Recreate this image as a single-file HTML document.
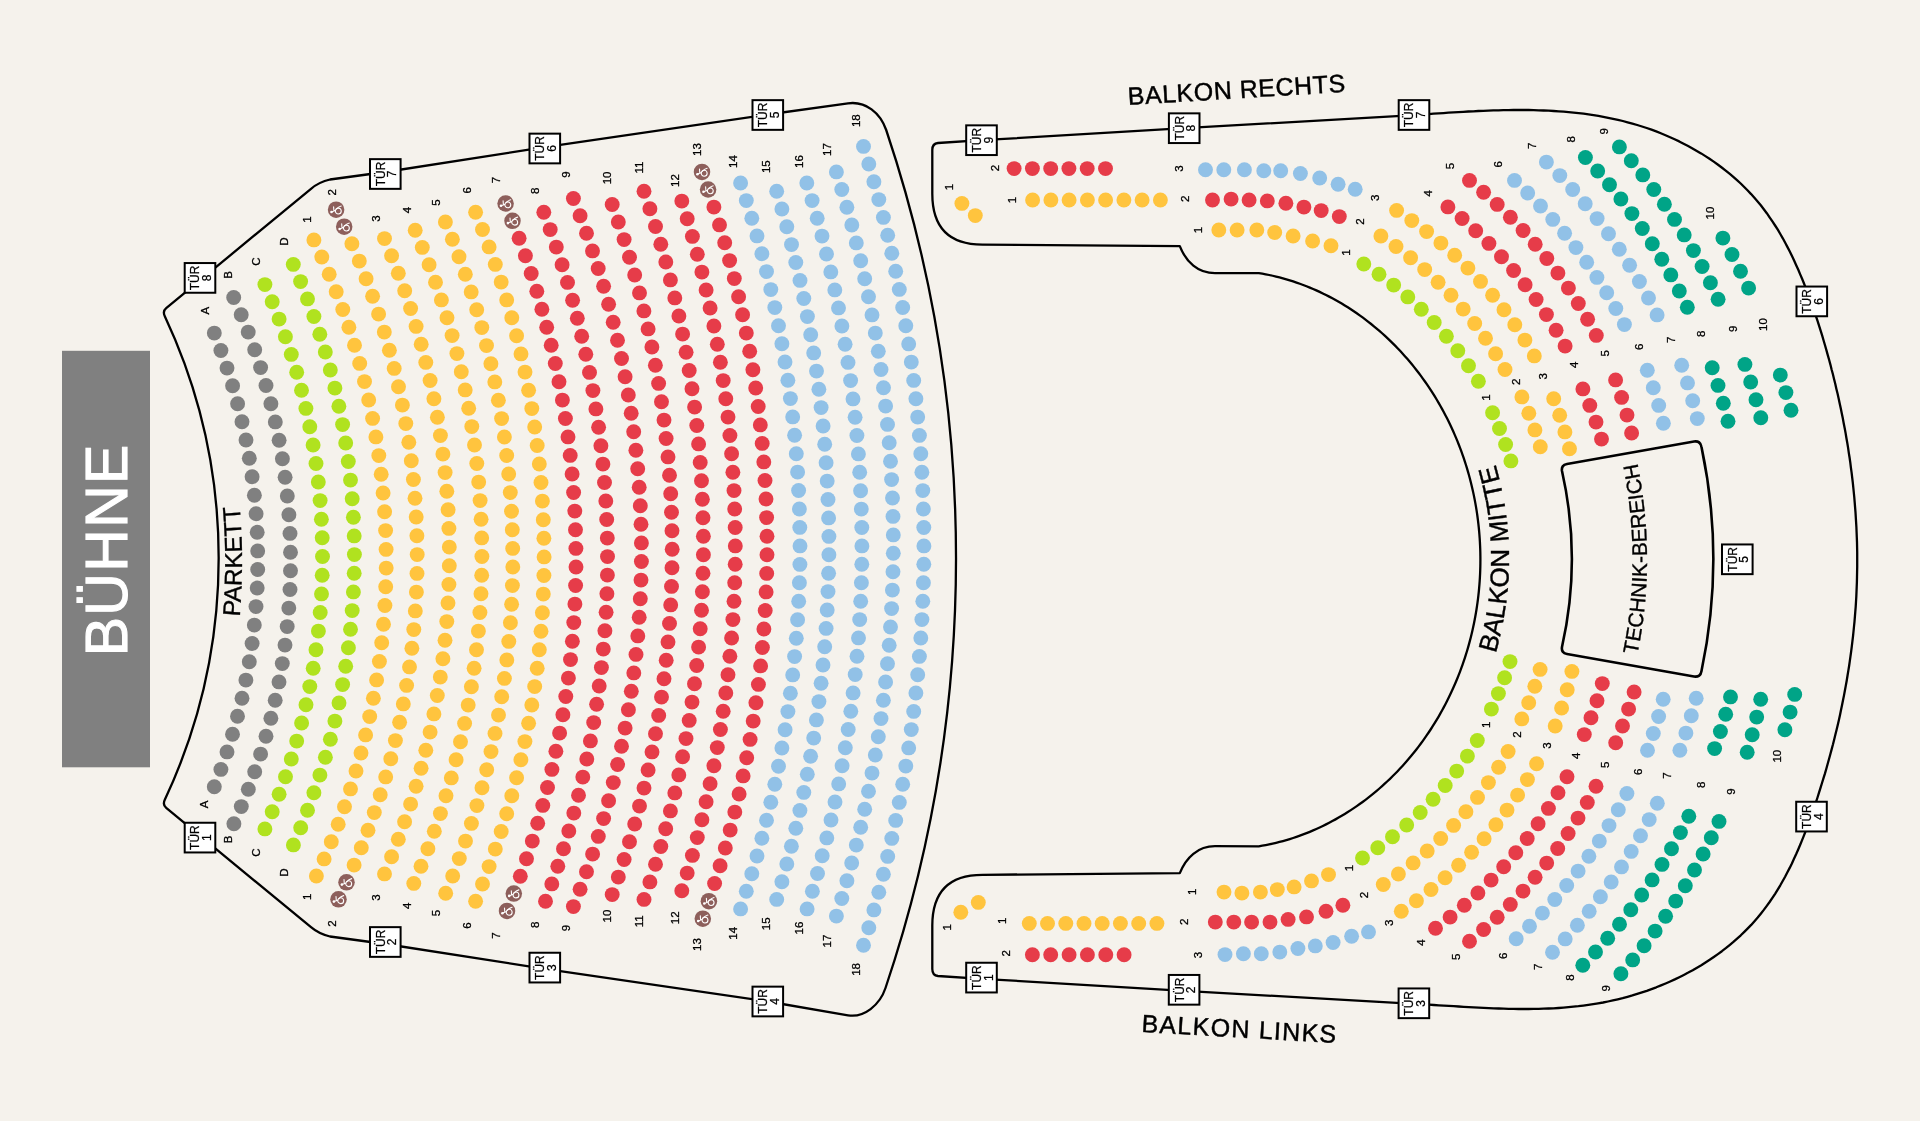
<!DOCTYPE html>
<html><head><meta charset="utf-8"><style>
html,body{margin:0;padding:0;background:#f5f2ec;}
svg{display:block;will-change:transform;font-family:"Liberation Sans",sans-serif;}
</style></head><body>
<svg width="1920" height="1121" viewBox="0 0 1920 1121">
<defs>
<path id="pMitte" d="M 1429.7 776.9 A 339 339 0 0 0 1429.7 341.1"/>
<path id="pTech" d="M 1583.1 797.5 A 477 477 0 0 0 1583.1 320.5"/>
<path id="pPark" d="M 220.3 726.4 A 637 637 0 0 0 220.3 396.6"/>
<g id="wc"><circle r="8.25" fill="#8d5f5b"/><circle cx="2.2" cy="1.35" r="2.95" fill="none" stroke="#fff" stroke-width="1.1"/><path d="M0.2 -0.5 Q2.4 -3.1 5.1 -3.7 M-4.6 2.2 L-0.9 0.9 M-2.5 -2.8 L-2.2 1.3" fill="none" stroke="#fff" stroke-width="1.1" stroke-linecap="round"/><circle cx="-4.6" cy="2.3" r="1.3" fill="#fff"/></g>
</defs>
<rect x="0" y="0" width="1920" height="1121" fill="#f5f2ec"/>
<rect x="62" y="350.8" width="88" height="416.5" fill="#808080"/>
<text transform="translate(127.2 549.8) rotate(-90)" font-size="59" fill="#fff" stroke="#fff" stroke-width="1.1" text-anchor="middle" letter-spacing="1.3">BÜHNE</text>
<text font-size="24.4" fill="#000" stroke="#000" stroke-width="0.35"><textPath href="#pPark" startOffset="50%" text-anchor="middle">PARKETT</textPath></text>
<text font-size="26.1" fill="#000" stroke="#000" stroke-width="0.4"><textPath href="#pMitte" startOffset="50%" text-anchor="middle">BALKON MITTE</textPath></text>
<text font-size="21.06" fill="#000" stroke="#000" stroke-width="0.35"><textPath href="#pTech" startOffset="50%" text-anchor="middle">TECHNIK-BEREICH</textPath></text>
<text transform="translate(1237.2 98.4) rotate(-3.5)" font-size="25" stroke="#000" stroke-width="0.45" text-anchor="middle" letter-spacing="0.55">BALKON RECHTS</text>
<text transform="translate(1239.1 1037.5) rotate(3.27)" font-size="25" stroke="#000" stroke-width="0.45" text-anchor="middle" letter-spacing="1.3">BALKON LINKS</text>
<path d="M 1567 464 L 1694 441.5 Q 1700.5 440.5 1701.5 447 A 541 541 0 0 1 1701.5 671 Q 1700.5 677.5 1694 676.5 L 1567 654 Q 1561 653 1562 647 A 401 401 0 0 0 1562 471 Q 1561 465 1567 464 Z" fill="none" stroke="#000" stroke-width="2.6"/><path d="M 932.3 150 Q 932.3 143.5 938 143 L 981.5 140.2 L 1184.2 128.2 L 1414.1 115.1 L 1419.0 114.7 L 1423.9 114.4 L 1428.7 114.1 L 1433.6 113.7 L 1438.6 113.4 L 1443.5 113.1 L 1448.4 112.7 L 1453.4 112.4 L 1458.4 112.1 L 1463.3 111.8 L 1468.3 111.5 L 1473.3 111.3 L 1478.3 111.0 L 1483.3 110.8 L 1488.3 110.6 L 1493.4 110.4 L 1498.4 110.3 L 1503.4 110.1 L 1508.4 110.1 L 1513.5 110.0 L 1518.5 110.0 L 1523.5 110.0 L 1528.6 110.0 L 1533.6 110.1 L 1538.6 110.3 L 1543.6 110.5 L 1548.6 110.7 L 1553.7 111.0 L 1558.7 111.3 L 1563.7 111.7 L 1568.6 112.1 L 1573.6 112.6 L 1578.6 113.1 L 1583.6 113.7 L 1588.5 114.4 L 1593.5 115.1 L 1598.4 115.9 L 1603.3 116.8 L 1608.2 117.8 L 1613.1 118.8 L 1617.9 119.8 L 1622.8 121.0 L 1627.6 122.3 L 1632.4 123.6 L 1637.2 125.0 L 1642.0 126.5 L 1646.7 128.0 L 1651.5 129.7 L 1656.2 131.4 L 1660.8 133.3 L 1665.5 135.2 L 1670.1 137.2 L 1674.6 139.3 L 1679.2 141.4 L 1683.6 143.7 L 1688.1 146.0 L 1692.5 148.4 L 1696.8 150.9 L 1701.1 153.4 L 1705.4 156.1 L 1709.5 158.8 L 1713.7 161.6 L 1717.7 164.5 L 1721.7 167.5 L 1725.7 170.6 L 1729.5 173.7 L 1733.3 176.9 L 1737.0 180.2 L 1740.7 183.5 L 1744.2 187.0 L 1747.7 190.5 L 1751.1 194.1 L 1754.4 197.8 L 1757.6 201.5 L 1760.8 205.3 L 1763.8 209.2 L 1766.8 213.2 L 1769.6 217.3 L 1772.4 221.4 L 1775.1 225.5 L 1777.8 229.7 L 1780.3 234.0 L 1782.8 238.3 L 1785.2 242.7 L 1787.5 247.1 L 1789.8 251.6 L 1792.0 256.1 L 1794.1 260.6 L 1796.2 265.2 L 1798.3 269.8 L 1800.2 274.4 L 1802.2 279.0 L 1804.1 283.7 L 1805.9 288.3 L 1807.7 293.0 L 1809.5 297.7 L 1811.2 302.4 L 1812.9 307.1 L 1814.5 311.9 L 1816.1 316.6 L 1817.7 321.4 L 1819.2 326.1 L 1820.7 330.9 L 1822.2 335.7 L 1823.6 340.5 L 1825.0 345.3 L 1826.4 350.1 L 1827.7 354.9 L 1829.1 359.8 L 1830.4 364.6 L 1831.6 369.5 L 1832.9 374.3 L 1834.1 379.2 L 1835.3 384.0 L 1836.4 388.9 L 1837.6 393.8 L 1838.7 398.7 L 1839.7 403.6 L 1840.8 408.5 L 1841.8 413.4 L 1842.8 418.3 L 1843.7 423.2 L 1844.7 428.2 L 1845.6 433.1 L 1846.4 438.0 L 1847.3 443.0 L 1848.1 447.9 L 1848.8 452.8 L 1849.6 457.8 L 1850.3 462.7 L 1850.9 467.7 L 1851.6 472.7 L 1852.2 477.6 L 1852.8 482.6 L 1853.3 487.5 L 1853.8 492.5 L 1854.3 497.5 L 1854.7 502.4 L 1855.1 507.4 L 1855.5 512.4 L 1855.8 517.4 L 1856.1 522.3 L 1856.4 527.3 L 1856.6 532.3 L 1856.8 537.3 L 1857.0 542.2 L 1857.1 547.2 L 1857.2 552.2 L 1857.2 557.1 L 1857.2 562.1 L 1857.2 567.1 L 1857.1 572.0 L 1857.0 577.0 L 1856.9 582.0 L 1856.7 586.9 L 1856.5 591.9 L 1856.3 596.8 L 1856.0 601.8 L 1855.7 606.8 L 1855.3 611.7 L 1854.9 616.7 L 1854.5 621.6 L 1854.0 626.5 L 1853.5 631.5 L 1853.0 636.4 L 1852.4 641.4 L 1851.8 646.3 L 1851.2 651.2 L 1850.5 656.1 L 1849.8 661.1 L 1849.1 666.0 L 1848.3 670.9 L 1847.5 675.8 L 1846.7 680.7 L 1845.8 685.6 L 1844.9 690.5 L 1844.0 695.4 L 1843.0 700.3 L 1842.0 705.2 L 1841.0 710.1 L 1840.0 715.0 L 1838.9 719.9 L 1837.8 724.8 L 1836.6 729.7 L 1835.4 734.5 L 1834.2 739.4 L 1833.0 744.3 L 1831.7 749.1 L 1830.4 754.0 L 1829.1 758.8 L 1827.7 763.7 L 1826.4 768.5 L 1825.0 773.4 L 1823.5 778.2 L 1822.0 783.0 L 1820.5 787.9 L 1819.0 792.7 L 1817.5 797.5 L 1815.9 802.3 L 1814.3 807.1 L 1812.6 811.9 L 1811.0 816.7 L 1809.3 821.5 L 1807.5 826.2 L 1805.7 831.0 L 1803.9 835.7 L 1802.0 840.4 L 1800.1 845.0 L 1798.1 849.7 L 1796.1 854.3 L 1794.0 858.8 L 1791.9 863.4 L 1789.7 867.9 L 1787.4 872.3 L 1785.1 876.7 L 1782.7 881.0 L 1780.3 885.3 L 1777.7 889.6 L 1775.1 893.8 L 1772.4 897.9 L 1769.6 902.0 L 1766.8 905.9 L 1763.8 909.9 L 1760.8 913.7 L 1757.7 917.5 L 1754.5 921.2 L 1751.2 924.9 L 1747.8 928.4 L 1744.3 931.9 L 1740.8 935.3 L 1737.1 938.6 L 1733.4 941.9 L 1729.6 945.1 L 1725.8 948.2 L 1721.9 951.2 L 1717.9 954.1 L 1713.8 957.0 L 1709.7 959.8 L 1705.5 962.5 L 1701.3 965.2 L 1697.0 967.7 L 1692.7 970.2 L 1688.3 972.6 L 1683.8 974.9 L 1679.3 977.2 L 1674.8 979.4 L 1670.2 981.5 L 1665.6 983.5 L 1661.0 985.4 L 1656.3 987.3 L 1651.5 989.1 L 1646.8 990.8 L 1642.0 992.4 L 1637.2 993.9 L 1632.4 995.4 L 1627.5 996.8 L 1622.7 998.1 L 1617.8 999.3 L 1612.9 1000.4 L 1608.0 1001.5 L 1603.1 1002.5 L 1598.1 1003.4 L 1593.2 1004.2 L 1588.3 1004.9 L 1583.3 1005.6 L 1578.4 1006.2 L 1573.4 1006.7 L 1568.5 1007.2 L 1563.5 1007.6 L 1558.5 1008.0 L 1553.5 1008.3 L 1548.6 1008.5 L 1543.6 1008.7 L 1538.6 1008.8 L 1533.6 1008.9 L 1528.6 1009.0 L 1523.6 1009.0 L 1518.6 1009.0 L 1513.6 1008.9 L 1508.6 1008.8 L 1503.6 1008.7 L 1498.7 1008.5 L 1493.7 1008.3 L 1488.7 1008.1 L 1483.7 1007.9 L 1478.7 1007.6 L 1473.7 1007.4 L 1468.7 1007.1 L 1463.7 1006.8 L 1458.7 1006.5 L 1453.7 1006.2 L 1448.8 1005.9 L 1443.8 1005.6 L 1438.8 1005.3 L 1433.9 1005.0 L 1428.9 1004.7 L 1424.0 1004.4 L 1419.0 1004.2 L 1414.1 1003.9 L 1184.2 990.8 L 981.5 978.8 L 938 976.0 Q 932.3 975.5 932.3 969.0 L 932.3 925.6 Q 932.3 874.8 982.4 874.8 L 1179.8 873.2 C 1186 857.4 1198 846.2 1215 846.2 L 1258.79 846.32 L 1262.26 845.74 L 1265.73 845.10 L 1269.20 844.40 L 1272.65 843.65 L 1276.09 842.84 L 1279.53 841.98 L 1282.95 841.06 L 1286.36 840.09 L 1289.75 839.06 L 1293.14 837.98 L 1296.50 836.85 L 1299.86 835.67 L 1303.19 834.43 L 1306.51 833.15 L 1309.81 831.81 L 1313.10 830.43 L 1316.36 828.99 L 1319.61 827.51 L 1322.83 825.98 L 1326.03 824.40 L 1329.21 822.77 L 1332.37 821.10 L 1335.51 819.38 L 1338.62 817.62 L 1341.71 815.81 L 1344.77 813.96 L 1347.81 812.06 L 1350.82 810.12 L 1353.80 808.14 L 1356.76 806.12 L 1359.69 804.05 L 1362.59 801.95 L 1365.47 799.80 L 1368.31 797.62 L 1371.13 795.40 L 1373.91 793.14 L 1376.67 790.84 L 1379.40 788.50 L 1382.09 786.13 L 1384.75 783.72 L 1387.39 781.28 L 1389.99 778.81 L 1392.55 776.30 L 1395.09 773.75 L 1397.59 771.18 L 1400.06 768.57 L 1402.49 765.93 L 1404.89 763.26 L 1407.26 760.55 L 1409.59 757.82 L 1411.89 755.06 L 1414.15 752.27 L 1416.38 749.46 L 1418.57 746.61 L 1420.72 743.74 L 1422.84 740.85 L 1424.93 737.92 L 1426.97 734.97 L 1428.98 732.00 L 1430.96 729.00 L 1432.89 725.98 L 1434.79 722.94 L 1436.65 719.87 L 1438.48 716.79 L 1440.27 713.68 L 1442.02 710.55 L 1443.73 707.40 L 1445.40 704.23 L 1447.04 701.04 L 1448.63 697.83 L 1450.19 694.60 L 1451.71 691.36 L 1453.20 688.10 L 1454.64 684.82 L 1456.05 681.53 L 1457.41 678.22 L 1458.74 674.89 L 1460.03 671.55 L 1461.28 668.20 L 1462.49 664.83 L 1463.66 661.45 L 1464.79 658.06 L 1465.88 654.65 L 1466.94 651.24 L 1467.95 647.81 L 1468.92 644.37 L 1469.86 640.92 L 1470.75 637.46 L 1471.61 633.99 L 1472.43 630.51 L 1473.20 627.02 L 1473.94 623.52 L 1474.64 620.02 L 1475.29 616.51 L 1475.91 612.99 L 1476.49 609.47 L 1477.03 605.94 L 1477.53 602.40 L 1477.99 598.86 L 1478.40 595.32 L 1478.78 591.77 L 1479.12 588.21 L 1479.42 584.66 L 1479.68 581.10 L 1479.90 577.53 L 1480.08 573.97 L 1480.22 570.40 L 1480.32 566.84 L 1480.38 563.27 L 1480.40 559.70 L 1480.38 556.13 L 1480.32 552.56 L 1480.22 549.00 L 1480.08 545.43 L 1479.90 541.87 L 1479.68 538.30 L 1479.42 534.74 L 1479.12 531.19 L 1478.78 527.63 L 1478.40 524.08 L 1477.99 520.54 L 1477.53 517.00 L 1477.03 513.46 L 1476.49 509.93 L 1475.91 506.41 L 1475.29 502.89 L 1474.64 499.38 L 1473.94 495.88 L 1473.20 492.38 L 1472.43 488.89 L 1471.61 485.41 L 1470.75 481.94 L 1469.86 478.48 L 1468.92 475.03 L 1467.95 471.59 L 1466.94 468.16 L 1465.88 464.75 L 1464.79 461.34 L 1463.66 457.95 L 1462.49 454.57 L 1461.28 451.20 L 1460.03 447.85 L 1458.74 444.51 L 1457.41 441.18 L 1456.05 437.87 L 1454.64 434.58 L 1453.20 431.30 L 1451.71 428.04 L 1450.19 424.80 L 1448.63 421.57 L 1447.04 418.36 L 1445.40 415.17 L 1443.73 412.00 L 1442.02 408.85 L 1440.27 405.72 L 1438.48 402.61 L 1436.65 399.53 L 1434.79 396.46 L 1432.89 393.42 L 1430.96 390.40 L 1428.98 387.40 L 1426.97 384.43 L 1424.93 381.48 L 1422.84 378.55 L 1420.72 375.66 L 1418.57 372.79 L 1416.38 369.94 L 1414.15 367.13 L 1411.89 364.34 L 1409.59 361.58 L 1407.26 358.85 L 1404.89 356.14 L 1402.49 353.47 L 1400.06 350.83 L 1397.59 348.22 L 1395.09 345.65 L 1392.55 343.10 L 1389.99 340.59 L 1387.39 338.12 L 1384.75 335.68 L 1382.09 333.27 L 1379.40 330.90 L 1376.67 328.56 L 1373.91 326.26 L 1371.13 324.00 L 1368.31 321.78 L 1365.47 319.60 L 1362.59 317.45 L 1359.69 315.35 L 1356.76 313.28 L 1353.80 311.26 L 1350.82 309.28 L 1347.81 307.34 L 1344.77 305.44 L 1341.71 303.59 L 1338.62 301.78 L 1335.51 300.02 L 1332.37 298.30 L 1329.21 296.63 L 1326.03 295.00 L 1322.83 293.42 L 1319.61 291.89 L 1316.36 290.41 L 1313.10 288.97 L 1309.81 287.59 L 1306.51 286.25 L 1303.19 284.97 L 1299.86 283.73 L 1296.50 282.55 L 1293.14 281.42 L 1289.75 280.34 L 1286.36 279.31 L 1282.95 278.34 L 1279.53 277.42 L 1276.09 276.56 L 1272.65 275.75 L 1269.20 275.00 L 1265.73 274.30 L 1262.26 273.66 L 1258.79 273.08 L 1215 273.2 C 1198 273.2 1186 262 1179.8 246.2 L 982.4 244.6 Q 932.3 244.6 932.3 193.8 Z" fill="none" stroke="#000" stroke-width="2.3" stroke-linejoin="round"/><path d="M 164.8 316.2 Q 162.4 311.2 166.2 308.1 L 311 188.8 Q 319 182 330 179.5 L 385.3 172 L 544.8 147.2 L 767.8 114.5 L 848 103.35 C 865.8 100.9 880.3 112.9 886.2 130.0 A 1346.6 1346.6 0 0 1 885.5 988.0 C 879.8 1005.1 864 1018 848 1015.3 L 767.8 1001.5 L 544.8 968.8 L 385.3 944.0 L 330 936.5 Q 319 934.0 311 927.2 L 166.2 807.9 Q 162.4 804.8 164.8 799.8 A 569.6 569.6 0 0 0 164.8 316.2 Z" fill="none" stroke="#000" stroke-width="2.3" stroke-linejoin="round"/><circle cx="214.3" cy="333.1" r="7.45" fill="#808080"/><circle cx="220.9" cy="350.5" r="7.45" fill="#808080"/><circle cx="227.0" cy="368.1" r="7.45" fill="#808080"/><circle cx="232.6" cy="385.8" r="7.45" fill="#808080"/><circle cx="237.6" cy="403.8" r="7.45" fill="#808080"/><circle cx="242.0" cy="421.8" r="7.45" fill="#808080"/><circle cx="246.0" cy="440.0" r="7.45" fill="#808080"/><circle cx="249.3" cy="458.3" r="7.45" fill="#808080"/><circle cx="252.1" cy="476.7" r="7.45" fill="#808080"/><circle cx="254.4" cy="495.2" r="7.45" fill="#808080"/><circle cx="256.1" cy="513.7" r="7.45" fill="#808080"/><circle cx="257.2" cy="532.3" r="7.45" fill="#808080"/><circle cx="257.7" cy="550.9" r="7.45" fill="#808080"/><circle cx="257.7" cy="569.5" r="7.45" fill="#808080"/><circle cx="257.2" cy="588.0" r="7.45" fill="#808080"/><circle cx="256.0" cy="606.6" r="7.45" fill="#808080"/><circle cx="254.3" cy="625.1" r="7.45" fill="#808080"/><circle cx="252.1" cy="643.5" r="7.45" fill="#808080"/><circle cx="249.3" cy="661.8" r="7.45" fill="#808080"/><circle cx="245.9" cy="680.1" r="7.45" fill="#808080"/><circle cx="242.0" cy="698.3" r="7.45" fill="#808080"/><circle cx="237.5" cy="716.3" r="7.45" fill="#808080"/><circle cx="232.5" cy="734.2" r="7.45" fill="#808080"/><circle cx="227.0" cy="751.9" r="7.45" fill="#808080"/><circle cx="220.9" cy="769.4" r="7.45" fill="#808080"/><circle cx="214.3" cy="786.8" r="7.45" fill="#808080"/><circle cx="233.7" cy="297.5" r="7.45" fill="#808080"/><circle cx="241.2" cy="314.7" r="7.45" fill="#808080"/><circle cx="248.2" cy="332.1" r="7.45" fill="#808080"/><circle cx="254.7" cy="349.8" r="7.45" fill="#808080"/><circle cx="260.6" cy="367.6" r="7.45" fill="#808080"/><circle cx="266.0" cy="385.5" r="7.45" fill="#808080"/><circle cx="270.9" cy="403.7" r="7.45" fill="#808080"/><circle cx="275.3" cy="421.9" r="7.45" fill="#808080"/><circle cx="279.1" cy="440.3" r="7.45" fill="#808080"/><circle cx="282.4" cy="458.8" r="7.45" fill="#808080"/><circle cx="285.1" cy="477.3" r="7.45" fill="#808080"/><circle cx="287.3" cy="496.0" r="7.45" fill="#808080"/><circle cx="288.9" cy="514.7" r="7.45" fill="#808080"/><circle cx="290.0" cy="533.4" r="7.45" fill="#808080"/><circle cx="290.5" cy="552.2" r="7.45" fill="#808080"/><circle cx="290.5" cy="570.8" r="7.45" fill="#808080"/><circle cx="290.0" cy="589.5" r="7.45" fill="#808080"/><circle cx="288.8" cy="608.1" r="7.45" fill="#808080"/><circle cx="287.2" cy="626.6" r="7.45" fill="#808080"/><circle cx="285.0" cy="645.1" r="7.45" fill="#808080"/><circle cx="282.3" cy="663.6" r="7.45" fill="#808080"/><circle cx="279.0" cy="681.9" r="7.45" fill="#808080"/><circle cx="275.2" cy="700.2" r="7.45" fill="#808080"/><circle cx="270.9" cy="718.3" r="7.45" fill="#808080"/><circle cx="266.0" cy="736.3" r="7.45" fill="#808080"/><circle cx="260.6" cy="754.1" r="7.45" fill="#808080"/><circle cx="254.7" cy="771.8" r="7.45" fill="#808080"/><circle cx="248.3" cy="789.3" r="7.45" fill="#808080"/><circle cx="241.3" cy="806.6" r="7.45" fill="#808080"/><circle cx="233.9" cy="823.7" r="7.45" fill="#808080"/><circle cx="264.9" cy="284.6" r="7.45" fill="#b0e21f"/><circle cx="272.2" cy="301.8" r="7.45" fill="#b0e21f"/><circle cx="279.1" cy="319.1" r="7.45" fill="#b0e21f"/><circle cx="285.4" cy="336.7" r="7.45" fill="#b0e21f"/><circle cx="291.3" cy="354.4" r="7.45" fill="#b0e21f"/><circle cx="296.7" cy="372.3" r="7.45" fill="#b0e21f"/><circle cx="301.5" cy="390.3" r="7.45" fill="#b0e21f"/><circle cx="305.9" cy="408.4" r="7.45" fill="#b0e21f"/><circle cx="309.8" cy="426.7" r="7.45" fill="#b0e21f"/><circle cx="313.1" cy="445.0" r="7.45" fill="#b0e21f"/><circle cx="316.0" cy="463.5" r="7.45" fill="#b0e21f"/><circle cx="318.3" cy="482.0" r="7.45" fill="#b0e21f"/><circle cx="320.1" cy="500.6" r="7.45" fill="#b0e21f"/><circle cx="321.4" cy="519.2" r="7.45" fill="#b0e21f"/><circle cx="322.2" cy="537.8" r="7.45" fill="#b0e21f"/><circle cx="322.5" cy="556.5" r="7.45" fill="#b0e21f"/><circle cx="322.2" cy="575.2" r="7.45" fill="#b0e21f"/><circle cx="321.5" cy="593.9" r="7.45" fill="#b0e21f"/><circle cx="320.2" cy="612.5" r="7.45" fill="#b0e21f"/><circle cx="318.4" cy="631.1" r="7.45" fill="#b0e21f"/><circle cx="316.0" cy="649.7" r="7.45" fill="#b0e21f"/><circle cx="313.2" cy="668.2" r="7.45" fill="#b0e21f"/><circle cx="309.8" cy="686.6" r="7.45" fill="#b0e21f"/><circle cx="306.0" cy="704.8" r="7.45" fill="#b0e21f"/><circle cx="301.6" cy="723.0" r="7.45" fill="#b0e21f"/><circle cx="296.7" cy="741.1" r="7.45" fill="#b0e21f"/><circle cx="291.3" cy="759.0" r="7.45" fill="#b0e21f"/><circle cx="285.5" cy="776.7" r="7.45" fill="#b0e21f"/><circle cx="279.1" cy="794.3" r="7.45" fill="#b0e21f"/><circle cx="272.2" cy="811.7" r="7.45" fill="#b0e21f"/><circle cx="264.9" cy="828.9" r="7.45" fill="#b0e21f"/><circle cx="293.3" cy="264.4" r="7.45" fill="#b0e21f"/><circle cx="300.6" cy="281.6" r="7.45" fill="#b0e21f"/><circle cx="307.5" cy="298.9" r="7.45" fill="#b0e21f"/><circle cx="313.9" cy="316.5" r="7.45" fill="#b0e21f"/><circle cx="319.8" cy="334.2" r="7.45" fill="#b0e21f"/><circle cx="325.3" cy="352.0" r="7.45" fill="#b0e21f"/><circle cx="330.3" cy="370.0" r="7.45" fill="#b0e21f"/><circle cx="334.9" cy="388.1" r="7.45" fill="#b0e21f"/><circle cx="338.9" cy="406.3" r="7.45" fill="#b0e21f"/><circle cx="342.6" cy="424.6" r="7.45" fill="#b0e21f"/><circle cx="345.7" cy="443.0" r="7.45" fill="#b0e21f"/><circle cx="348.3" cy="461.5" r="7.45" fill="#b0e21f"/><circle cx="350.5" cy="480.1" r="7.45" fill="#b0e21f"/><circle cx="352.2" cy="498.7" r="7.45" fill="#b0e21f"/><circle cx="353.4" cy="517.3" r="7.45" fill="#b0e21f"/><circle cx="354.2" cy="535.9" r="7.45" fill="#b0e21f"/><circle cx="354.4" cy="554.6" r="7.45" fill="#b0e21f"/><circle cx="354.2" cy="573.3" r="7.45" fill="#b0e21f"/><circle cx="353.4" cy="591.9" r="7.45" fill="#b0e21f"/><circle cx="352.2" cy="610.6" r="7.45" fill="#b0e21f"/><circle cx="350.5" cy="629.2" r="7.45" fill="#b0e21f"/><circle cx="348.4" cy="647.7" r="7.45" fill="#b0e21f"/><circle cx="345.7" cy="666.2" r="7.45" fill="#b0e21f"/><circle cx="342.6" cy="684.6" r="7.45" fill="#b0e21f"/><circle cx="339.0" cy="702.9" r="7.45" fill="#b0e21f"/><circle cx="334.9" cy="721.1" r="7.45" fill="#b0e21f"/><circle cx="330.4" cy="739.3" r="7.45" fill="#b0e21f"/><circle cx="325.4" cy="757.2" r="7.45" fill="#b0e21f"/><circle cx="319.9" cy="775.1" r="7.45" fill="#b0e21f"/><circle cx="313.9" cy="792.8" r="7.45" fill="#b0e21f"/><circle cx="307.5" cy="810.3" r="7.45" fill="#b0e21f"/><circle cx="300.7" cy="827.7" r="7.45" fill="#b0e21f"/><circle cx="293.4" cy="844.9" r="7.45" fill="#b0e21f"/><circle cx="313.9" cy="239.9" r="7.45" fill="#ffc43e"/><circle cx="321.8" cy="257.0" r="7.45" fill="#ffc43e"/><circle cx="329.2" cy="274.3" r="7.45" fill="#ffc43e"/><circle cx="336.2" cy="291.8" r="7.45" fill="#ffc43e"/><circle cx="342.8" cy="309.5" r="7.45" fill="#ffc43e"/><circle cx="348.9" cy="327.3" r="7.45" fill="#ffc43e"/><circle cx="354.5" cy="345.3" r="7.45" fill="#ffc43e"/><circle cx="359.7" cy="363.4" r="7.45" fill="#ffc43e"/><circle cx="364.5" cy="381.6" r="7.45" fill="#ffc43e"/><circle cx="368.7" cy="400.0" r="7.45" fill="#ffc43e"/><circle cx="372.6" cy="418.4" r="7.45" fill="#ffc43e"/><circle cx="375.9" cy="436.9" r="7.45" fill="#ffc43e"/><circle cx="378.8" cy="455.6" r="7.45" fill="#ffc43e"/><circle cx="381.2" cy="474.2" r="7.45" fill="#ffc43e"/><circle cx="383.1" cy="493.0" r="7.45" fill="#ffc43e"/><circle cx="384.6" cy="511.8" r="7.45" fill="#ffc43e"/><circle cx="385.6" cy="530.6" r="7.45" fill="#ffc43e"/><circle cx="386.1" cy="549.4" r="7.45" fill="#ffc43e"/><circle cx="386.2" cy="568.1" r="7.45" fill="#ffc43e"/><circle cx="385.7" cy="586.8" r="7.45" fill="#ffc43e"/><circle cx="384.9" cy="605.5" r="7.45" fill="#ffc43e"/><circle cx="383.5" cy="624.2" r="7.45" fill="#ffc43e"/><circle cx="381.7" cy="642.8" r="7.45" fill="#ffc43e"/><circle cx="379.4" cy="661.4" r="7.45" fill="#ffc43e"/><circle cx="376.6" cy="679.9" r="7.45" fill="#ffc43e"/><circle cx="373.4" cy="698.3" r="7.45" fill="#ffc43e"/><circle cx="369.7" cy="716.6" r="7.45" fill="#ffc43e"/><circle cx="365.6" cy="734.9" r="7.45" fill="#ffc43e"/><circle cx="361.0" cy="753.0" r="7.45" fill="#ffc43e"/><circle cx="356.0" cy="771.0" r="7.45" fill="#ffc43e"/><circle cx="350.5" cy="788.9" r="7.45" fill="#ffc43e"/><circle cx="344.5" cy="806.7" r="7.45" fill="#ffc43e"/><circle cx="338.2" cy="824.3" r="7.45" fill="#ffc43e"/><circle cx="331.3" cy="841.7" r="7.45" fill="#ffc43e"/><circle cx="324.1" cy="858.9" r="7.45" fill="#ffc43e"/><circle cx="316.4" cy="876.0" r="7.45" fill="#ffc43e"/><use href="#wc" x="336.1" y="209.7"/><use href="#wc" x="344.2" y="226.7"/><circle cx="351.9" cy="243.8" r="7.45" fill="#ffc43e"/><circle cx="359.3" cy="261.1" r="7.45" fill="#ffc43e"/><circle cx="366.1" cy="278.7" r="7.45" fill="#ffc43e"/><circle cx="372.6" cy="296.3" r="7.45" fill="#ffc43e"/><circle cx="378.6" cy="314.1" r="7.45" fill="#ffc43e"/><circle cx="384.3" cy="332.1" r="7.45" fill="#ffc43e"/><circle cx="389.4" cy="350.2" r="7.45" fill="#ffc43e"/><circle cx="394.2" cy="368.4" r="7.45" fill="#ffc43e"/><circle cx="398.5" cy="386.7" r="7.45" fill="#ffc43e"/><circle cx="402.4" cy="405.1" r="7.45" fill="#ffc43e"/><circle cx="405.8" cy="423.6" r="7.45" fill="#ffc43e"/><circle cx="408.8" cy="442.2" r="7.45" fill="#ffc43e"/><circle cx="411.3" cy="460.8" r="7.45" fill="#ffc43e"/><circle cx="413.4" cy="479.5" r="7.45" fill="#ffc43e"/><circle cx="415.0" cy="498.2" r="7.45" fill="#ffc43e"/><circle cx="416.2" cy="517.0" r="7.45" fill="#ffc43e"/><circle cx="416.9" cy="535.8" r="7.45" fill="#ffc43e"/><circle cx="417.2" cy="554.6" r="7.45" fill="#ffc43e"/><circle cx="417.0" cy="573.4" r="7.45" fill="#ffc43e"/><circle cx="416.4" cy="592.1" r="7.45" fill="#ffc43e"/><circle cx="415.3" cy="610.9" r="7.45" fill="#ffc43e"/><circle cx="413.8" cy="629.6" r="7.45" fill="#ffc43e"/><circle cx="411.9" cy="648.2" r="7.45" fill="#ffc43e"/><circle cx="409.5" cy="666.9" r="7.45" fill="#ffc43e"/><circle cx="406.6" cy="685.4" r="7.45" fill="#ffc43e"/><circle cx="403.3" cy="703.9" r="7.45" fill="#ffc43e"/><circle cx="399.6" cy="722.3" r="7.45" fill="#ffc43e"/><circle cx="395.4" cy="740.6" r="7.45" fill="#ffc43e"/><circle cx="390.8" cy="758.8" r="7.45" fill="#ffc43e"/><circle cx="385.7" cy="776.9" r="7.45" fill="#ffc43e"/><circle cx="380.2" cy="794.8" r="7.45" fill="#ffc43e"/><circle cx="374.3" cy="812.6" r="7.45" fill="#ffc43e"/><circle cx="368.0" cy="830.3" r="7.45" fill="#ffc43e"/><circle cx="361.3" cy="847.8" r="7.45" fill="#ffc43e"/><circle cx="354.1" cy="865.1" r="7.45" fill="#ffc43e"/><use href="#wc" x="346.5" y="882.3"/><use href="#wc" x="338.5" y="899.3"/><circle cx="384.5" cy="238.6" r="7.45" fill="#ffc43e"/><circle cx="391.6" cy="255.8" r="7.45" fill="#ffc43e"/><circle cx="398.3" cy="273.3" r="7.45" fill="#ffc43e"/><circle cx="404.7" cy="290.8" r="7.45" fill="#ffc43e"/><circle cx="410.6" cy="308.5" r="7.45" fill="#ffc43e"/><circle cx="416.1" cy="326.4" r="7.45" fill="#ffc43e"/><circle cx="421.2" cy="344.3" r="7.45" fill="#ffc43e"/><circle cx="425.8" cy="362.4" r="7.45" fill="#ffc43e"/><circle cx="430.1" cy="380.5" r="7.45" fill="#ffc43e"/><circle cx="433.9" cy="398.8" r="7.45" fill="#ffc43e"/><circle cx="437.4" cy="417.2" r="7.45" fill="#ffc43e"/><circle cx="440.4" cy="435.6" r="7.45" fill="#ffc43e"/><circle cx="442.9" cy="454.1" r="7.45" fill="#ffc43e"/><circle cx="445.1" cy="472.6" r="7.45" fill="#ffc43e"/><circle cx="446.8" cy="491.2" r="7.45" fill="#ffc43e"/><circle cx="448.1" cy="509.8" r="7.45" fill="#ffc43e"/><circle cx="448.9" cy="528.4" r="7.45" fill="#ffc43e"/><circle cx="449.3" cy="547.1" r="7.45" fill="#ffc43e"/><circle cx="449.3" cy="565.7" r="7.45" fill="#ffc43e"/><circle cx="448.9" cy="584.4" r="7.45" fill="#ffc43e"/><circle cx="448.0" cy="603.0" r="7.45" fill="#ffc43e"/><circle cx="446.8" cy="621.6" r="7.45" fill="#ffc43e"/><circle cx="445.0" cy="640.2" r="7.45" fill="#ffc43e"/><circle cx="442.9" cy="658.7" r="7.45" fill="#ffc43e"/><circle cx="440.3" cy="677.1" r="7.45" fill="#ffc43e"/><circle cx="437.3" cy="695.5" r="7.45" fill="#ffc43e"/><circle cx="433.9" cy="713.9" r="7.45" fill="#ffc43e"/><circle cx="430.1" cy="732.1" r="7.45" fill="#ffc43e"/><circle cx="425.8" cy="750.3" r="7.45" fill="#ffc43e"/><circle cx="421.1" cy="768.3" r="7.45" fill="#ffc43e"/><circle cx="416.1" cy="786.2" r="7.45" fill="#ffc43e"/><circle cx="410.6" cy="804.1" r="7.45" fill="#ffc43e"/><circle cx="404.6" cy="821.7" r="7.45" fill="#ffc43e"/><circle cx="398.3" cy="839.3" r="7.45" fill="#ffc43e"/><circle cx="391.6" cy="856.7" r="7.45" fill="#ffc43e"/><circle cx="384.5" cy="873.9" r="7.45" fill="#ffc43e"/><circle cx="415.2" cy="230.2" r="7.45" fill="#ffc43e"/><circle cx="422.3" cy="247.4" r="7.45" fill="#ffc43e"/><circle cx="429.1" cy="264.8" r="7.45" fill="#ffc43e"/><circle cx="435.5" cy="282.3" r="7.45" fill="#ffc43e"/><circle cx="441.4" cy="299.9" r="7.45" fill="#ffc43e"/><circle cx="447.0" cy="317.7" r="7.45" fill="#ffc43e"/><circle cx="452.1" cy="335.6" r="7.45" fill="#ffc43e"/><circle cx="456.9" cy="353.6" r="7.45" fill="#ffc43e"/><circle cx="461.3" cy="371.7" r="7.45" fill="#ffc43e"/><circle cx="465.2" cy="389.9" r="7.45" fill="#ffc43e"/><circle cx="468.7" cy="408.2" r="7.45" fill="#ffc43e"/><circle cx="471.8" cy="426.6" r="7.45" fill="#ffc43e"/><circle cx="474.5" cy="445.0" r="7.45" fill="#ffc43e"/><circle cx="476.8" cy="463.5" r="7.45" fill="#ffc43e"/><circle cx="478.7" cy="482.1" r="7.45" fill="#ffc43e"/><circle cx="480.1" cy="500.6" r="7.45" fill="#ffc43e"/><circle cx="481.1" cy="519.3" r="7.45" fill="#ffc43e"/><circle cx="481.7" cy="537.9" r="7.45" fill="#ffc43e"/><circle cx="481.9" cy="556.5" r="7.45" fill="#ffc43e"/><circle cx="481.7" cy="575.2" r="7.45" fill="#ffc43e"/><circle cx="481.0" cy="593.8" r="7.45" fill="#ffc43e"/><circle cx="479.9" cy="612.5" r="7.45" fill="#ffc43e"/><circle cx="478.4" cy="631.1" r="7.45" fill="#ffc43e"/><circle cx="476.5" cy="649.7" r="7.45" fill="#ffc43e"/><circle cx="474.1" cy="668.2" r="7.45" fill="#ffc43e"/><circle cx="471.4" cy="686.7" r="7.45" fill="#ffc43e"/><circle cx="468.2" cy="705.1" r="7.45" fill="#ffc43e"/><circle cx="464.6" cy="723.4" r="7.45" fill="#ffc43e"/><circle cx="460.5" cy="741.7" r="7.45" fill="#ffc43e"/><circle cx="456.1" cy="759.8" r="7.45" fill="#ffc43e"/><circle cx="451.3" cy="777.9" r="7.45" fill="#ffc43e"/><circle cx="446.0" cy="795.8" r="7.45" fill="#ffc43e"/><circle cx="440.4" cy="813.6" r="7.45" fill="#ffc43e"/><circle cx="434.3" cy="831.3" r="7.45" fill="#ffc43e"/><circle cx="427.9" cy="848.8" r="7.45" fill="#ffc43e"/><circle cx="421.0" cy="866.2" r="7.45" fill="#ffc43e"/><circle cx="413.8" cy="883.4" r="7.45" fill="#ffc43e"/><circle cx="445.4" cy="222.0" r="7.45" fill="#ffc43e"/><circle cx="452.4" cy="239.3" r="7.45" fill="#ffc43e"/><circle cx="459.0" cy="256.7" r="7.45" fill="#ffc43e"/><circle cx="465.3" cy="274.2" r="7.45" fill="#ffc43e"/><circle cx="471.2" cy="291.9" r="7.45" fill="#ffc43e"/><circle cx="476.7" cy="309.7" r="7.45" fill="#ffc43e"/><circle cx="481.8" cy="327.6" r="7.45" fill="#ffc43e"/><circle cx="486.5" cy="345.6" r="7.45" fill="#ffc43e"/><circle cx="490.9" cy="363.7" r="7.45" fill="#ffc43e"/><circle cx="494.8" cy="381.9" r="7.45" fill="#ffc43e"/><circle cx="498.4" cy="400.2" r="7.45" fill="#ffc43e"/><circle cx="501.6" cy="418.6" r="7.45" fill="#ffc43e"/><circle cx="504.4" cy="437.0" r="7.45" fill="#ffc43e"/><circle cx="506.7" cy="455.5" r="7.45" fill="#ffc43e"/><circle cx="508.7" cy="474.0" r="7.45" fill="#ffc43e"/><circle cx="510.3" cy="492.6" r="7.45" fill="#ffc43e"/><circle cx="511.5" cy="511.2" r="7.45" fill="#ffc43e"/><circle cx="512.3" cy="529.8" r="7.45" fill="#ffc43e"/><circle cx="512.7" cy="548.4" r="7.45" fill="#ffc43e"/><circle cx="512.8" cy="567.0" r="7.45" fill="#ffc43e"/><circle cx="512.4" cy="585.6" r="7.45" fill="#ffc43e"/><circle cx="511.6" cy="604.2" r="7.45" fill="#ffc43e"/><circle cx="510.4" cy="622.8" r="7.45" fill="#ffc43e"/><circle cx="508.8" cy="641.4" r="7.45" fill="#ffc43e"/><circle cx="506.8" cy="659.9" r="7.45" fill="#ffc43e"/><circle cx="504.4" cy="678.4" r="7.45" fill="#ffc43e"/><circle cx="501.7" cy="696.8" r="7.45" fill="#ffc43e"/><circle cx="498.5" cy="715.1" r="7.45" fill="#ffc43e"/><circle cx="495.0" cy="733.4" r="7.45" fill="#ffc43e"/><circle cx="491.0" cy="751.6" r="7.45" fill="#ffc43e"/><circle cx="486.7" cy="769.7" r="7.45" fill="#ffc43e"/><circle cx="482.0" cy="787.7" r="7.45" fill="#ffc43e"/><circle cx="476.9" cy="805.6" r="7.45" fill="#ffc43e"/><circle cx="471.4" cy="823.4" r="7.45" fill="#ffc43e"/><circle cx="465.5" cy="841.1" r="7.45" fill="#ffc43e"/><circle cx="459.3" cy="858.6" r="7.45" fill="#ffc43e"/><circle cx="452.7" cy="876.0" r="7.45" fill="#ffc43e"/><circle cx="445.7" cy="893.3" r="7.45" fill="#ffc43e"/><circle cx="475.6" cy="212.2" r="7.45" fill="#ffc43e"/><circle cx="482.5" cy="229.5" r="7.45" fill="#ffc43e"/><circle cx="489.1" cy="246.9" r="7.45" fill="#ffc43e"/><circle cx="495.3" cy="264.4" r="7.45" fill="#ffc43e"/><circle cx="501.2" cy="282.1" r="7.45" fill="#ffc43e"/><circle cx="506.7" cy="299.9" r="7.45" fill="#ffc43e"/><circle cx="511.8" cy="317.8" r="7.45" fill="#ffc43e"/><circle cx="516.6" cy="335.8" r="7.45" fill="#ffc43e"/><circle cx="521.0" cy="353.9" r="7.45" fill="#ffc43e"/><circle cx="525.0" cy="372.1" r="7.45" fill="#ffc43e"/><circle cx="528.6" cy="390.3" r="7.45" fill="#ffc43e"/><circle cx="531.8" cy="408.6" r="7.45" fill="#ffc43e"/><circle cx="534.7" cy="427.0" r="7.45" fill="#ffc43e"/><circle cx="537.2" cy="445.5" r="7.45" fill="#ffc43e"/><circle cx="539.3" cy="464.0" r="7.45" fill="#ffc43e"/><circle cx="541.0" cy="482.5" r="7.45" fill="#ffc43e"/><circle cx="542.4" cy="501.1" r="7.45" fill="#ffc43e"/><circle cx="543.3" cy="519.7" r="7.45" fill="#ffc43e"/><circle cx="543.9" cy="538.3" r="7.45" fill="#ffc43e"/><circle cx="544.1" cy="556.9" r="7.45" fill="#ffc43e"/><circle cx="543.9" cy="575.5" r="7.45" fill="#ffc43e"/><circle cx="543.3" cy="594.1" r="7.45" fill="#ffc43e"/><circle cx="542.4" cy="612.7" r="7.45" fill="#ffc43e"/><circle cx="541.0" cy="631.2" r="7.45" fill="#ffc43e"/><circle cx="539.3" cy="649.7" r="7.45" fill="#ffc43e"/><circle cx="537.2" cy="668.2" r="7.45" fill="#ffc43e"/><circle cx="534.7" cy="686.6" r="7.45" fill="#ffc43e"/><circle cx="531.8" cy="705.0" r="7.45" fill="#ffc43e"/><circle cx="528.6" cy="723.3" r="7.45" fill="#ffc43e"/><circle cx="524.9" cy="741.6" r="7.45" fill="#ffc43e"/><circle cx="520.9" cy="759.7" r="7.45" fill="#ffc43e"/><circle cx="516.6" cy="777.8" r="7.45" fill="#ffc43e"/><circle cx="511.8" cy="795.8" r="7.45" fill="#ffc43e"/><circle cx="506.7" cy="813.7" r="7.45" fill="#ffc43e"/><circle cx="501.2" cy="831.5" r="7.45" fill="#ffc43e"/><circle cx="495.3" cy="849.1" r="7.45" fill="#ffc43e"/><circle cx="489.1" cy="866.6" r="7.45" fill="#ffc43e"/><circle cx="482.5" cy="884.0" r="7.45" fill="#ffc43e"/><circle cx="475.6" cy="901.3" r="7.45" fill="#ffc43e"/><use href="#wc" x="505.6" y="203.5"/><use href="#wc" x="512.5" y="220.8"/><circle cx="519.1" cy="238.2" r="7.45" fill="#e63c49"/><circle cx="525.4" cy="255.8" r="7.45" fill="#e63c49"/><circle cx="531.2" cy="273.5" r="7.45" fill="#e63c49"/><circle cx="536.8" cy="291.3" r="7.45" fill="#e63c49"/><circle cx="541.9" cy="309.2" r="7.45" fill="#e63c49"/><circle cx="546.7" cy="327.2" r="7.45" fill="#e63c49"/><circle cx="551.2" cy="345.3" r="7.45" fill="#e63c49"/><circle cx="555.3" cy="363.5" r="7.45" fill="#e63c49"/><circle cx="559.0" cy="381.7" r="7.45" fill="#e63c49"/><circle cx="562.4" cy="400.1" r="7.45" fill="#e63c49"/><circle cx="565.4" cy="418.5" r="7.45" fill="#e63c49"/><circle cx="568.0" cy="436.9" r="7.45" fill="#e63c49"/><circle cx="570.2" cy="455.4" r="7.45" fill="#e63c49"/><circle cx="572.1" cy="474.0" r="7.45" fill="#e63c49"/><circle cx="573.6" cy="492.5" r="7.45" fill="#e63c49"/><circle cx="574.8" cy="511.1" r="7.45" fill="#e63c49"/><circle cx="575.5" cy="529.8" r="7.45" fill="#e63c49"/><circle cx="575.9" cy="548.4" r="7.45" fill="#e63c49"/><circle cx="576.0" cy="567.0" r="7.45" fill="#e63c49"/><circle cx="575.6" cy="585.5" r="7.45" fill="#e63c49"/><circle cx="574.9" cy="604.1" r="7.45" fill="#e63c49"/><circle cx="573.8" cy="622.6" r="7.45" fill="#e63c49"/><circle cx="572.4" cy="641.2" r="7.45" fill="#e63c49"/><circle cx="570.5" cy="659.6" r="7.45" fill="#e63c49"/><circle cx="568.4" cy="678.1" r="7.45" fill="#e63c49"/><circle cx="565.8" cy="696.5" r="7.45" fill="#e63c49"/><circle cx="562.9" cy="714.8" r="7.45" fill="#e63c49"/><circle cx="559.6" cy="733.1" r="7.45" fill="#e63c49"/><circle cx="555.9" cy="751.3" r="7.45" fill="#e63c49"/><circle cx="551.9" cy="769.4" r="7.45" fill="#e63c49"/><circle cx="547.5" cy="787.5" r="7.45" fill="#e63c49"/><circle cx="542.8" cy="805.4" r="7.45" fill="#e63c49"/><circle cx="537.7" cy="823.3" r="7.45" fill="#e63c49"/><circle cx="532.3" cy="841.1" r="7.45" fill="#e63c49"/><circle cx="526.5" cy="858.7" r="7.45" fill="#e63c49"/><circle cx="520.3" cy="876.2" r="7.45" fill="#e63c49"/><use href="#wc" x="513.8" y="893.6"/><use href="#wc" x="507.0" y="910.9"/><circle cx="543.8" cy="212.2" r="7.45" fill="#e63c49"/><circle cx="550.2" cy="229.6" r="7.45" fill="#e63c49"/><circle cx="556.3" cy="247.1" r="7.45" fill="#e63c49"/><circle cx="562.1" cy="264.7" r="7.45" fill="#e63c49"/><circle cx="567.5" cy="282.4" r="7.45" fill="#e63c49"/><circle cx="572.6" cy="300.3" r="7.45" fill="#e63c49"/><circle cx="577.3" cy="318.2" r="7.45" fill="#e63c49"/><circle cx="581.7" cy="336.2" r="7.45" fill="#e63c49"/><circle cx="585.8" cy="354.3" r="7.45" fill="#e63c49"/><circle cx="589.5" cy="372.4" r="7.45" fill="#e63c49"/><circle cx="592.9" cy="390.6" r="7.45" fill="#e63c49"/><circle cx="595.9" cy="408.9" r="7.45" fill="#e63c49"/><circle cx="598.6" cy="427.3" r="7.45" fill="#e63c49"/><circle cx="600.9" cy="445.7" r="7.45" fill="#e63c49"/><circle cx="602.9" cy="464.1" r="7.45" fill="#e63c49"/><circle cx="604.5" cy="482.5" r="7.45" fill="#e63c49"/><circle cx="605.8" cy="501.0" r="7.45" fill="#e63c49"/><circle cx="606.7" cy="519.5" r="7.45" fill="#e63c49"/><circle cx="607.3" cy="538.1" r="7.45" fill="#e63c49"/><circle cx="607.5" cy="556.6" r="7.45" fill="#e63c49"/><circle cx="607.4" cy="575.1" r="7.45" fill="#e63c49"/><circle cx="606.9" cy="593.7" r="7.45" fill="#e63c49"/><circle cx="606.1" cy="612.2" r="7.45" fill="#e63c49"/><circle cx="604.9" cy="630.7" r="7.45" fill="#e63c49"/><circle cx="603.3" cy="649.1" r="7.45" fill="#e63c49"/><circle cx="601.4" cy="667.6" r="7.45" fill="#e63c49"/><circle cx="599.2" cy="686.0" r="7.45" fill="#e63c49"/><circle cx="596.6" cy="704.3" r="7.45" fill="#e63c49"/><circle cx="593.7" cy="722.6" r="7.45" fill="#e63c49"/><circle cx="590.4" cy="740.9" r="7.45" fill="#e63c49"/><circle cx="586.8" cy="759.0" r="7.45" fill="#e63c49"/><circle cx="582.8" cy="777.1" r="7.45" fill="#e63c49"/><circle cx="578.5" cy="795.2" r="7.45" fill="#e63c49"/><circle cx="573.8" cy="813.1" r="7.45" fill="#e63c49"/><circle cx="568.8" cy="831.0" r="7.45" fill="#e63c49"/><circle cx="563.5" cy="848.7" r="7.45" fill="#e63c49"/><circle cx="557.8" cy="866.3" r="7.45" fill="#e63c49"/><circle cx="551.8" cy="883.9" r="7.45" fill="#e63c49"/><circle cx="545.5" cy="901.3" r="7.45" fill="#e63c49"/><circle cx="573.4" cy="198.5" r="7.45" fill="#e63c49"/><circle cx="580.1" cy="215.8" r="7.45" fill="#e63c49"/><circle cx="586.5" cy="233.3" r="7.45" fill="#e63c49"/><circle cx="592.5" cy="250.9" r="7.45" fill="#e63c49"/><circle cx="598.2" cy="268.5" r="7.45" fill="#e63c49"/><circle cx="603.6" cy="286.3" r="7.45" fill="#e63c49"/><circle cx="608.6" cy="304.2" r="7.45" fill="#e63c49"/><circle cx="613.2" cy="322.2" r="7.45" fill="#e63c49"/><circle cx="617.5" cy="340.3" r="7.45" fill="#e63c49"/><circle cx="621.5" cy="358.5" r="7.45" fill="#e63c49"/><circle cx="625.1" cy="376.7" r="7.45" fill="#e63c49"/><circle cx="628.3" cy="395.0" r="7.45" fill="#e63c49"/><circle cx="631.2" cy="413.3" r="7.45" fill="#e63c49"/><circle cx="633.7" cy="431.7" r="7.45" fill="#e63c49"/><circle cx="635.9" cy="450.2" r="7.45" fill="#e63c49"/><circle cx="637.7" cy="468.7" r="7.45" fill="#e63c49"/><circle cx="639.2" cy="487.2" r="7.45" fill="#e63c49"/><circle cx="640.3" cy="505.8" r="7.45" fill="#e63c49"/><circle cx="641.0" cy="524.3" r="7.45" fill="#e63c49"/><circle cx="641.4" cy="542.9" r="7.45" fill="#e63c49"/><circle cx="641.4" cy="561.5" r="7.45" fill="#e63c49"/><circle cx="641.0" cy="580.1" r="7.45" fill="#e63c49"/><circle cx="640.3" cy="598.7" r="7.45" fill="#e63c49"/><circle cx="639.2" cy="617.3" r="7.45" fill="#e63c49"/><circle cx="637.8" cy="635.9" r="7.45" fill="#e63c49"/><circle cx="636.0" cy="654.4" r="7.45" fill="#e63c49"/><circle cx="633.8" cy="672.9" r="7.45" fill="#e63c49"/><circle cx="631.3" cy="691.3" r="7.45" fill="#e63c49"/><circle cx="628.4" cy="709.7" r="7.45" fill="#e63c49"/><circle cx="625.1" cy="728.1" r="7.45" fill="#e63c49"/><circle cx="621.5" cy="746.3" r="7.45" fill="#e63c49"/><circle cx="617.6" cy="764.5" r="7.45" fill="#e63c49"/><circle cx="613.3" cy="782.6" r="7.45" fill="#e63c49"/><circle cx="608.6" cy="800.7" r="7.45" fill="#e63c49"/><circle cx="603.6" cy="818.6" r="7.45" fill="#e63c49"/><circle cx="598.3" cy="836.4" r="7.45" fill="#e63c49"/><circle cx="592.6" cy="854.1" r="7.45" fill="#e63c49"/><circle cx="586.5" cy="871.8" r="7.45" fill="#e63c49"/><circle cx="580.1" cy="889.2" r="7.45" fill="#e63c49"/><circle cx="573.4" cy="906.6" r="7.45" fill="#e63c49"/><circle cx="612.2" cy="204.5" r="7.45" fill="#e63c49"/><circle cx="618.3" cy="222.0" r="7.45" fill="#e63c49"/><circle cx="624.1" cy="239.6" r="7.45" fill="#e63c49"/><circle cx="629.5" cy="257.3" r="7.45" fill="#e63c49"/><circle cx="634.7" cy="275.0" r="7.45" fill="#e63c49"/><circle cx="639.5" cy="292.9" r="7.45" fill="#e63c49"/><circle cx="643.9" cy="310.9" r="7.45" fill="#e63c49"/><circle cx="648.1" cy="328.9" r="7.45" fill="#e63c49"/><circle cx="651.9" cy="347.0" r="7.45" fill="#e63c49"/><circle cx="655.4" cy="365.2" r="7.45" fill="#e63c49"/><circle cx="658.6" cy="383.4" r="7.45" fill="#e63c49"/><circle cx="661.5" cy="401.7" r="7.45" fill="#e63c49"/><circle cx="664.0" cy="420.1" r="7.45" fill="#e63c49"/><circle cx="666.1" cy="438.5" r="7.45" fill="#e63c49"/><circle cx="668.0" cy="456.9" r="7.45" fill="#e63c49"/><circle cx="669.5" cy="475.3" r="7.45" fill="#e63c49"/><circle cx="670.7" cy="493.8" r="7.45" fill="#e63c49"/><circle cx="671.5" cy="512.3" r="7.45" fill="#e63c49"/><circle cx="672.0" cy="530.8" r="7.45" fill="#e63c49"/><circle cx="672.2" cy="549.3" r="7.45" fill="#e63c49"/><circle cx="672.0" cy="567.8" r="7.45" fill="#e63c49"/><circle cx="671.5" cy="586.4" r="7.45" fill="#e63c49"/><circle cx="670.7" cy="604.9" r="7.45" fill="#e63c49"/><circle cx="669.5" cy="623.4" r="7.45" fill="#e63c49"/><circle cx="668.0" cy="641.9" r="7.45" fill="#e63c49"/><circle cx="666.2" cy="660.3" r="7.45" fill="#e63c49"/><circle cx="664.0" cy="678.7" r="7.45" fill="#e63c49"/><circle cx="661.5" cy="697.1" r="7.45" fill="#e63c49"/><circle cx="658.7" cy="715.4" r="7.45" fill="#e63c49"/><circle cx="655.5" cy="733.7" r="7.45" fill="#e63c49"/><circle cx="652.0" cy="751.9" r="7.45" fill="#e63c49"/><circle cx="648.1" cy="770.0" r="7.45" fill="#e63c49"/><circle cx="644.0" cy="788.1" r="7.45" fill="#e63c49"/><circle cx="639.5" cy="806.1" r="7.45" fill="#e63c49"/><circle cx="634.7" cy="824.0" r="7.45" fill="#e63c49"/><circle cx="629.5" cy="841.8" r="7.45" fill="#e63c49"/><circle cx="624.1" cy="859.5" r="7.45" fill="#e63c49"/><circle cx="618.3" cy="877.1" r="7.45" fill="#e63c49"/><circle cx="612.2" cy="894.6" r="7.45" fill="#e63c49"/><circle cx="644.0" cy="191.3" r="7.45" fill="#e63c49"/><circle cx="649.9" cy="208.8" r="7.45" fill="#e63c49"/><circle cx="655.5" cy="226.5" r="7.45" fill="#e63c49"/><circle cx="660.8" cy="244.2" r="7.45" fill="#e63c49"/><circle cx="665.8" cy="262.0" r="7.45" fill="#e63c49"/><circle cx="670.4" cy="279.9" r="7.45" fill="#e63c49"/><circle cx="674.8" cy="297.9" r="7.45" fill="#e63c49"/><circle cx="678.9" cy="316.0" r="7.45" fill="#e63c49"/><circle cx="682.6" cy="334.1" r="7.45" fill="#e63c49"/><circle cx="686.1" cy="352.3" r="7.45" fill="#e63c49"/><circle cx="689.2" cy="370.5" r="7.45" fill="#e63c49"/><circle cx="692.0" cy="388.8" r="7.45" fill="#e63c49"/><circle cx="694.6" cy="407.1" r="7.45" fill="#e63c49"/><circle cx="696.8" cy="425.5" r="7.45" fill="#e63c49"/><circle cx="698.6" cy="443.9" r="7.45" fill="#e63c49"/><circle cx="700.2" cy="462.4" r="7.45" fill="#e63c49"/><circle cx="701.5" cy="480.8" r="7.45" fill="#e63c49"/><circle cx="702.4" cy="499.3" r="7.45" fill="#e63c49"/><circle cx="703.0" cy="517.8" r="7.45" fill="#e63c49"/><circle cx="703.4" cy="536.3" r="7.45" fill="#e63c49"/><circle cx="703.4" cy="554.8" r="7.45" fill="#e63c49"/><circle cx="703.0" cy="573.3" r="7.45" fill="#e63c49"/><circle cx="702.4" cy="591.8" r="7.45" fill="#e63c49"/><circle cx="701.5" cy="610.2" r="7.45" fill="#e63c49"/><circle cx="700.2" cy="628.7" r="7.45" fill="#e63c49"/><circle cx="698.6" cy="647.1" r="7.45" fill="#e63c49"/><circle cx="696.7" cy="665.5" r="7.45" fill="#e63c49"/><circle cx="694.5" cy="683.8" r="7.45" fill="#e63c49"/><circle cx="692.0" cy="702.1" r="7.45" fill="#e63c49"/><circle cx="689.2" cy="720.4" r="7.45" fill="#e63c49"/><circle cx="686.0" cy="738.6" r="7.45" fill="#e63c49"/><circle cx="682.6" cy="756.8" r="7.45" fill="#e63c49"/><circle cx="678.8" cy="774.9" r="7.45" fill="#e63c49"/><circle cx="674.8" cy="792.9" r="7.45" fill="#e63c49"/><circle cx="670.4" cy="810.9" r="7.45" fill="#e63c49"/><circle cx="665.7" cy="828.7" r="7.45" fill="#e63c49"/><circle cx="660.8" cy="846.5" r="7.45" fill="#e63c49"/><circle cx="655.5" cy="864.3" r="7.45" fill="#e63c49"/><circle cx="649.9" cy="881.9" r="7.45" fill="#e63c49"/><circle cx="644.0" cy="899.4" r="7.45" fill="#e63c49"/><circle cx="681.8" cy="201.1" r="7.45" fill="#e63c49"/><circle cx="687.2" cy="218.7" r="7.45" fill="#e63c49"/><circle cx="692.4" cy="236.4" r="7.45" fill="#e63c49"/><circle cx="697.3" cy="254.2" r="7.45" fill="#e63c49"/><circle cx="701.9" cy="272.1" r="7.45" fill="#e63c49"/><circle cx="706.1" cy="290.0" r="7.45" fill="#e63c49"/><circle cx="710.1" cy="308.0" r="7.45" fill="#e63c49"/><circle cx="713.9" cy="326.0" r="7.45" fill="#e63c49"/><circle cx="717.3" cy="344.2" r="7.45" fill="#e63c49"/><circle cx="720.4" cy="362.3" r="7.45" fill="#e63c49"/><circle cx="723.2" cy="380.6" r="7.45" fill="#e63c49"/><circle cx="725.8" cy="398.8" r="7.45" fill="#e63c49"/><circle cx="728.0" cy="417.1" r="7.45" fill="#e63c49"/><circle cx="729.9" cy="435.5" r="7.45" fill="#e63c49"/><circle cx="731.6" cy="453.8" r="7.45" fill="#e63c49"/><circle cx="732.9" cy="472.2" r="7.45" fill="#e63c49"/><circle cx="734.0" cy="490.6" r="7.45" fill="#e63c49"/><circle cx="734.7" cy="509.0" r="7.45" fill="#e63c49"/><circle cx="735.2" cy="527.5" r="7.45" fill="#e63c49"/><circle cx="735.3" cy="545.9" r="7.45" fill="#e63c49"/><circle cx="735.2" cy="564.3" r="7.45" fill="#e63c49"/><circle cx="734.7" cy="582.8" r="7.45" fill="#e63c49"/><circle cx="734.0" cy="601.2" r="7.45" fill="#e63c49"/><circle cx="732.9" cy="619.6" r="7.45" fill="#e63c49"/><circle cx="731.6" cy="638.0" r="7.45" fill="#e63c49"/><circle cx="729.9" cy="656.3" r="7.45" fill="#e63c49"/><circle cx="728.0" cy="674.7" r="7.45" fill="#e63c49"/><circle cx="725.8" cy="693.0" r="7.45" fill="#e63c49"/><circle cx="723.2" cy="711.2" r="7.45" fill="#e63c49"/><circle cx="720.4" cy="729.5" r="7.45" fill="#e63c49"/><circle cx="717.3" cy="747.6" r="7.45" fill="#e63c49"/><circle cx="713.9" cy="765.8" r="7.45" fill="#e63c49"/><circle cx="710.1" cy="783.8" r="7.45" fill="#e63c49"/><circle cx="706.1" cy="801.8" r="7.45" fill="#e63c49"/><circle cx="701.9" cy="819.7" r="7.45" fill="#e63c49"/><circle cx="697.3" cy="837.6" r="7.45" fill="#e63c49"/><circle cx="692.4" cy="855.4" r="7.45" fill="#e63c49"/><circle cx="687.2" cy="873.1" r="7.45" fill="#e63c49"/><circle cx="681.8" cy="890.7" r="7.45" fill="#e63c49"/><use href="#wc" x="702.0" y="171.9"/><use href="#wc" x="708.1" y="189.5"/><circle cx="713.9" cy="207.1" r="7.45" fill="#e63c49"/><circle cx="719.5" cy="224.9" r="7.45" fill="#e63c49"/><circle cx="724.7" cy="242.7" r="7.45" fill="#e63c49"/><circle cx="729.6" cy="260.6" r="7.45" fill="#e63c49"/><circle cx="734.3" cy="278.6" r="7.45" fill="#e63c49"/><circle cx="738.6" cy="296.7" r="7.45" fill="#e63c49"/><circle cx="742.6" cy="314.8" r="7.45" fill="#e63c49"/><circle cx="746.3" cy="333.1" r="7.45" fill="#e63c49"/><circle cx="749.7" cy="351.3" r="7.45" fill="#e63c49"/><circle cx="752.9" cy="369.7" r="7.45" fill="#e63c49"/><circle cx="755.7" cy="388.0" r="7.45" fill="#e63c49"/><circle cx="758.2" cy="406.5" r="7.45" fill="#e63c49"/><circle cx="760.3" cy="424.9" r="7.45" fill="#e63c49"/><circle cx="762.2" cy="443.4" r="7.45" fill="#e63c49"/><circle cx="763.8" cy="461.9" r="7.45" fill="#e63c49"/><circle cx="765.0" cy="480.5" r="7.45" fill="#e63c49"/><circle cx="766.0" cy="499.0" r="7.45" fill="#e63c49"/><circle cx="766.6" cy="517.6" r="7.45" fill="#e63c49"/><circle cx="767.0" cy="536.2" r="7.45" fill="#e63c49"/><circle cx="767.0" cy="554.8" r="7.45" fill="#e63c49"/><circle cx="766.7" cy="573.4" r="7.45" fill="#e63c49"/><circle cx="766.1" cy="591.9" r="7.45" fill="#e63c49"/><circle cx="765.2" cy="610.5" r="7.45" fill="#e63c49"/><circle cx="763.9" cy="629.0" r="7.45" fill="#e63c49"/><circle cx="762.4" cy="647.5" r="7.45" fill="#e63c49"/><circle cx="760.6" cy="665.9" r="7.45" fill="#e63c49"/><circle cx="758.4" cy="684.4" r="7.45" fill="#e63c49"/><circle cx="755.9" cy="702.8" r="7.45" fill="#e63c49"/><circle cx="753.2" cy="721.1" r="7.45" fill="#e63c49"/><circle cx="750.1" cy="739.4" r="7.45" fill="#e63c49"/><circle cx="746.7" cy="757.7" r="7.45" fill="#e63c49"/><circle cx="743.1" cy="775.9" r="7.45" fill="#e63c49"/><circle cx="739.1" cy="794.0" r="7.45" fill="#e63c49"/><circle cx="734.8" cy="812.1" r="7.45" fill="#e63c49"/><circle cx="730.2" cy="830.1" r="7.45" fill="#e63c49"/><circle cx="725.3" cy="848.0" r="7.45" fill="#e63c49"/><circle cx="720.1" cy="865.8" r="7.45" fill="#e63c49"/><circle cx="714.6" cy="883.5" r="7.45" fill="#e63c49"/><use href="#wc" x="708.9" y="901.2"/><use href="#wc" x="702.8" y="918.7"/><circle cx="740.6" cy="183.0" r="7.45" fill="#91c1e7"/><circle cx="746.3" cy="200.6" r="7.45" fill="#91c1e7"/><circle cx="751.8" cy="218.2" r="7.45" fill="#91c1e7"/><circle cx="757.0" cy="235.9" r="7.45" fill="#91c1e7"/><circle cx="761.9" cy="253.7" r="7.45" fill="#91c1e7"/><circle cx="766.5" cy="271.6" r="7.45" fill="#91c1e7"/><circle cx="770.8" cy="289.6" r="7.45" fill="#91c1e7"/><circle cx="774.8" cy="307.6" r="7.45" fill="#91c1e7"/><circle cx="778.5" cy="325.7" r="7.45" fill="#91c1e7"/><circle cx="781.9" cy="343.8" r="7.45" fill="#91c1e7"/><circle cx="785.0" cy="362.0" r="7.45" fill="#91c1e7"/><circle cx="787.9" cy="380.3" r="7.45" fill="#91c1e7"/><circle cx="790.4" cy="398.6" r="7.45" fill="#91c1e7"/><circle cx="792.7" cy="416.9" r="7.45" fill="#91c1e7"/><circle cx="794.6" cy="435.3" r="7.45" fill="#91c1e7"/><circle cx="796.3" cy="453.7" r="7.45" fill="#91c1e7"/><circle cx="797.6" cy="472.1" r="7.45" fill="#91c1e7"/><circle cx="798.6" cy="490.5" r="7.45" fill="#91c1e7"/><circle cx="799.4" cy="509.0" r="7.45" fill="#91c1e7"/><circle cx="799.8" cy="527.4" r="7.45" fill="#91c1e7"/><circle cx="800.0" cy="545.9" r="7.45" fill="#91c1e7"/><circle cx="799.9" cy="564.4" r="7.45" fill="#91c1e7"/><circle cx="799.4" cy="582.8" r="7.45" fill="#91c1e7"/><circle cx="798.7" cy="601.3" r="7.45" fill="#91c1e7"/><circle cx="797.6" cy="619.7" r="7.45" fill="#91c1e7"/><circle cx="796.3" cy="638.2" r="7.45" fill="#91c1e7"/><circle cx="794.6" cy="656.6" r="7.45" fill="#91c1e7"/><circle cx="792.7" cy="674.9" r="7.45" fill="#91c1e7"/><circle cx="790.4" cy="693.3" r="7.45" fill="#91c1e7"/><circle cx="787.9" cy="711.6" r="7.45" fill="#91c1e7"/><circle cx="785.1" cy="729.8" r="7.45" fill="#91c1e7"/><circle cx="781.9" cy="748.0" r="7.45" fill="#91c1e7"/><circle cx="778.5" cy="766.2" r="7.45" fill="#91c1e7"/><circle cx="774.8" cy="784.3" r="7.45" fill="#91c1e7"/><circle cx="770.8" cy="802.3" r="7.45" fill="#91c1e7"/><circle cx="766.5" cy="820.3" r="7.45" fill="#91c1e7"/><circle cx="761.9" cy="838.2" r="7.45" fill="#91c1e7"/><circle cx="757.0" cy="856.0" r="7.45" fill="#91c1e7"/><circle cx="751.8" cy="873.7" r="7.45" fill="#91c1e7"/><circle cx="746.3" cy="891.3" r="7.45" fill="#91c1e7"/><circle cx="740.6" cy="908.9" r="7.45" fill="#91c1e7"/><circle cx="776.7" cy="191.3" r="7.45" fill="#91c1e7"/><circle cx="781.9" cy="209.0" r="7.45" fill="#91c1e7"/><circle cx="786.8" cy="226.7" r="7.45" fill="#91c1e7"/><circle cx="791.5" cy="244.6" r="7.45" fill="#91c1e7"/><circle cx="795.8" cy="262.5" r="7.45" fill="#91c1e7"/><circle cx="800.0" cy="280.4" r="7.45" fill="#91c1e7"/><circle cx="803.8" cy="298.5" r="7.45" fill="#91c1e7"/><circle cx="807.4" cy="316.6" r="7.45" fill="#91c1e7"/><circle cx="810.7" cy="334.7" r="7.45" fill="#91c1e7"/><circle cx="813.7" cy="352.9" r="7.45" fill="#91c1e7"/><circle cx="816.5" cy="371.1" r="7.45" fill="#91c1e7"/><circle cx="818.9" cy="389.3" r="7.45" fill="#91c1e7"/><circle cx="821.1" cy="407.6" r="7.45" fill="#91c1e7"/><circle cx="823.1" cy="426.0" r="7.45" fill="#91c1e7"/><circle cx="824.7" cy="444.3" r="7.45" fill="#91c1e7"/><circle cx="826.1" cy="462.7" r="7.45" fill="#91c1e7"/><circle cx="827.2" cy="481.1" r="7.45" fill="#91c1e7"/><circle cx="828.0" cy="499.5" r="7.45" fill="#91c1e7"/><circle cx="828.6" cy="517.9" r="7.45" fill="#91c1e7"/><circle cx="828.9" cy="536.4" r="7.45" fill="#91c1e7"/><circle cx="828.9" cy="554.8" r="7.45" fill="#91c1e7"/><circle cx="828.6" cy="573.2" r="7.45" fill="#91c1e7"/><circle cx="828.0" cy="591.6" r="7.45" fill="#91c1e7"/><circle cx="827.2" cy="610.0" r="7.45" fill="#91c1e7"/><circle cx="826.1" cy="628.4" r="7.45" fill="#91c1e7"/><circle cx="824.7" cy="646.7" r="7.45" fill="#91c1e7"/><circle cx="823.0" cy="665.0" r="7.45" fill="#91c1e7"/><circle cx="821.1" cy="683.3" r="7.45" fill="#91c1e7"/><circle cx="818.9" cy="701.6" r="7.45" fill="#91c1e7"/><circle cx="816.4" cy="719.9" r="7.45" fill="#91c1e7"/><circle cx="813.7" cy="738.1" r="7.45" fill="#91c1e7"/><circle cx="810.6" cy="756.2" r="7.45" fill="#91c1e7"/><circle cx="807.3" cy="774.3" r="7.45" fill="#91c1e7"/><circle cx="803.8" cy="792.4" r="7.45" fill="#91c1e7"/><circle cx="799.9" cy="810.4" r="7.45" fill="#91c1e7"/><circle cx="795.8" cy="828.3" r="7.45" fill="#91c1e7"/><circle cx="791.4" cy="846.2" r="7.45" fill="#91c1e7"/><circle cx="786.8" cy="864.0" r="7.45" fill="#91c1e7"/><circle cx="781.9" cy="881.7" r="7.45" fill="#91c1e7"/><circle cx="776.7" cy="899.4" r="7.45" fill="#91c1e7"/><circle cx="806.8" cy="183.0" r="7.45" fill="#91c1e7"/><circle cx="812.1" cy="200.6" r="7.45" fill="#91c1e7"/><circle cx="817.2" cy="218.3" r="7.45" fill="#91c1e7"/><circle cx="822.0" cy="236.1" r="7.45" fill="#91c1e7"/><circle cx="826.5" cy="254.0" r="7.45" fill="#91c1e7"/><circle cx="830.8" cy="271.9" r="7.45" fill="#91c1e7"/><circle cx="834.8" cy="289.9" r="7.45" fill="#91c1e7"/><circle cx="838.5" cy="307.9" r="7.45" fill="#91c1e7"/><circle cx="841.9" cy="326.0" r="7.45" fill="#91c1e7"/><circle cx="845.1" cy="344.2" r="7.45" fill="#91c1e7"/><circle cx="848.0" cy="362.4" r="7.45" fill="#91c1e7"/><circle cx="850.6" cy="380.6" r="7.45" fill="#91c1e7"/><circle cx="853.0" cy="398.9" r="7.45" fill="#91c1e7"/><circle cx="855.1" cy="417.2" r="7.45" fill="#91c1e7"/><circle cx="856.9" cy="435.5" r="7.45" fill="#91c1e7"/><circle cx="858.4" cy="453.9" r="7.45" fill="#91c1e7"/><circle cx="859.7" cy="472.3" r="7.45" fill="#91c1e7"/><circle cx="860.6" cy="490.7" r="7.45" fill="#91c1e7"/><circle cx="861.3" cy="509.1" r="7.45" fill="#91c1e7"/><circle cx="861.8" cy="527.5" r="7.45" fill="#91c1e7"/><circle cx="861.9" cy="545.9" r="7.45" fill="#91c1e7"/><circle cx="861.8" cy="564.3" r="7.45" fill="#91c1e7"/><circle cx="861.4" cy="582.7" r="7.45" fill="#91c1e7"/><circle cx="860.7" cy="601.2" r="7.45" fill="#91c1e7"/><circle cx="859.7" cy="619.6" r="7.45" fill="#91c1e7"/><circle cx="858.5" cy="637.9" r="7.45" fill="#91c1e7"/><circle cx="857.0" cy="656.3" r="7.45" fill="#91c1e7"/><circle cx="855.2" cy="674.6" r="7.45" fill="#91c1e7"/><circle cx="853.1" cy="692.9" r="7.45" fill="#91c1e7"/><circle cx="850.8" cy="711.2" r="7.45" fill="#91c1e7"/><circle cx="848.2" cy="729.5" r="7.45" fill="#91c1e7"/><circle cx="845.3" cy="747.7" r="7.45" fill="#91c1e7"/><circle cx="842.1" cy="765.8" r="7.45" fill="#91c1e7"/><circle cx="838.7" cy="783.9" r="7.45" fill="#91c1e7"/><circle cx="835.0" cy="802.0" r="7.45" fill="#91c1e7"/><circle cx="831.0" cy="820.0" r="7.45" fill="#91c1e7"/><circle cx="826.8" cy="837.9" r="7.45" fill="#91c1e7"/><circle cx="822.2" cy="855.7" r="7.45" fill="#91c1e7"/><circle cx="817.5" cy="873.5" r="7.45" fill="#91c1e7"/><circle cx="812.4" cy="891.3" r="7.45" fill="#91c1e7"/><circle cx="807.1" cy="908.9" r="7.45" fill="#91c1e7"/><circle cx="836.4" cy="171.9" r="7.45" fill="#91c1e7"/><circle cx="841.8" cy="189.5" r="7.45" fill="#91c1e7"/><circle cx="846.9" cy="207.2" r="7.45" fill="#91c1e7"/><circle cx="851.8" cy="225.0" r="7.45" fill="#91c1e7"/><circle cx="856.3" cy="242.9" r="7.45" fill="#91c1e7"/><circle cx="860.7" cy="260.8" r="7.45" fill="#91c1e7"/><circle cx="864.7" cy="278.8" r="7.45" fill="#91c1e7"/><circle cx="868.5" cy="296.8" r="7.45" fill="#91c1e7"/><circle cx="872.0" cy="314.9" r="7.45" fill="#91c1e7"/><circle cx="875.3" cy="333.1" r="7.45" fill="#91c1e7"/><circle cx="878.3" cy="351.3" r="7.45" fill="#91c1e7"/><circle cx="881.0" cy="369.5" r="7.45" fill="#91c1e7"/><circle cx="883.5" cy="387.8" r="7.45" fill="#91c1e7"/><circle cx="885.6" cy="406.1" r="7.45" fill="#91c1e7"/><circle cx="887.5" cy="424.4" r="7.45" fill="#91c1e7"/><circle cx="889.2" cy="442.8" r="7.45" fill="#91c1e7"/><circle cx="890.5" cy="461.2" r="7.45" fill="#91c1e7"/><circle cx="891.6" cy="479.6" r="7.45" fill="#91c1e7"/><circle cx="892.5" cy="498.0" r="7.45" fill="#91c1e7"/><circle cx="893.0" cy="516.4" r="7.45" fill="#91c1e7"/><circle cx="893.3" cy="534.9" r="7.45" fill="#91c1e7"/><circle cx="893.3" cy="553.3" r="7.45" fill="#91c1e7"/><circle cx="893.0" cy="571.7" r="7.45" fill="#91c1e7"/><circle cx="892.4" cy="590.1" r="7.45" fill="#91c1e7"/><circle cx="891.6" cy="608.6" r="7.45" fill="#91c1e7"/><circle cx="890.5" cy="627.0" r="7.45" fill="#91c1e7"/><circle cx="889.2" cy="645.3" r="7.45" fill="#91c1e7"/><circle cx="887.5" cy="663.7" r="7.45" fill="#91c1e7"/><circle cx="885.6" cy="682.0" r="7.45" fill="#91c1e7"/><circle cx="883.4" cy="700.3" r="7.45" fill="#91c1e7"/><circle cx="881.0" cy="718.6" r="7.45" fill="#91c1e7"/><circle cx="878.3" cy="736.8" r="7.45" fill="#91c1e7"/><circle cx="875.3" cy="755.0" r="7.45" fill="#91c1e7"/><circle cx="872.0" cy="773.1" r="7.45" fill="#91c1e7"/><circle cx="868.5" cy="791.2" r="7.45" fill="#91c1e7"/><circle cx="864.7" cy="809.3" r="7.45" fill="#91c1e7"/><circle cx="860.7" cy="827.2" r="7.45" fill="#91c1e7"/><circle cx="856.3" cy="845.1" r="7.45" fill="#91c1e7"/><circle cx="851.7" cy="863.0" r="7.45" fill="#91c1e7"/><circle cx="846.9" cy="880.8" r="7.45" fill="#91c1e7"/><circle cx="841.8" cy="898.5" r="7.45" fill="#91c1e7"/><circle cx="836.4" cy="916.1" r="7.45" fill="#91c1e7"/><circle cx="863.5" cy="146.4" r="7.45" fill="#91c1e7"/><circle cx="868.8" cy="164.0" r="7.45" fill="#91c1e7"/><circle cx="873.9" cy="181.8" r="7.45" fill="#91c1e7"/><circle cx="878.8" cy="199.6" r="7.45" fill="#91c1e7"/><circle cx="883.4" cy="217.4" r="7.45" fill="#91c1e7"/><circle cx="887.7" cy="235.3" r="7.45" fill="#91c1e7"/><circle cx="891.8" cy="253.3" r="7.45" fill="#91c1e7"/><circle cx="895.7" cy="271.3" r="7.45" fill="#91c1e7"/><circle cx="899.3" cy="289.4" r="7.45" fill="#91c1e7"/><circle cx="902.7" cy="307.5" r="7.45" fill="#91c1e7"/><circle cx="905.8" cy="325.7" r="7.45" fill="#91c1e7"/><circle cx="908.7" cy="343.9" r="7.45" fill="#91c1e7"/><circle cx="911.3" cy="362.1" r="7.45" fill="#91c1e7"/><circle cx="913.7" cy="380.4" r="7.45" fill="#91c1e7"/><circle cx="915.9" cy="398.7" r="7.45" fill="#91c1e7"/><circle cx="917.7" cy="417.1" r="7.45" fill="#91c1e7"/><circle cx="919.4" cy="435.4" r="7.45" fill="#91c1e7"/><circle cx="920.8" cy="453.8" r="7.45" fill="#91c1e7"/><circle cx="921.9" cy="472.2" r="7.45" fill="#91c1e7"/><circle cx="922.8" cy="490.6" r="7.45" fill="#91c1e7"/><circle cx="923.4" cy="509.0" r="7.45" fill="#91c1e7"/><circle cx="923.8" cy="527.5" r="7.45" fill="#91c1e7"/><circle cx="923.9" cy="545.9" r="7.45" fill="#91c1e7"/><circle cx="923.8" cy="564.3" r="7.45" fill="#91c1e7"/><circle cx="923.4" cy="582.8" r="7.45" fill="#91c1e7"/><circle cx="922.8" cy="601.2" r="7.45" fill="#91c1e7"/><circle cx="921.9" cy="619.6" r="7.45" fill="#91c1e7"/><circle cx="920.8" cy="638.0" r="7.45" fill="#91c1e7"/><circle cx="919.4" cy="656.4" r="7.45" fill="#91c1e7"/><circle cx="917.7" cy="674.7" r="7.45" fill="#91c1e7"/><circle cx="915.9" cy="693.0" r="7.45" fill="#91c1e7"/><circle cx="913.7" cy="711.4" r="7.45" fill="#91c1e7"/><circle cx="911.3" cy="729.6" r="7.45" fill="#91c1e7"/><circle cx="908.7" cy="747.9" r="7.45" fill="#91c1e7"/><circle cx="905.8" cy="766.1" r="7.45" fill="#91c1e7"/><circle cx="902.7" cy="784.2" r="7.45" fill="#91c1e7"/><circle cx="899.3" cy="802.4" r="7.45" fill="#91c1e7"/><circle cx="895.7" cy="820.4" r="7.45" fill="#91c1e7"/><circle cx="891.8" cy="838.4" r="7.45" fill="#91c1e7"/><circle cx="887.7" cy="856.4" r="7.45" fill="#91c1e7"/><circle cx="883.4" cy="874.3" r="7.45" fill="#91c1e7"/><circle cx="878.8" cy="892.2" r="7.45" fill="#91c1e7"/><circle cx="873.9" cy="909.9" r="7.45" fill="#91c1e7"/><circle cx="868.8" cy="927.7" r="7.45" fill="#91c1e7"/><circle cx="863.5" cy="945.3" r="7.45" fill="#91c1e7"/><text transform="translate(204.6 310.7) rotate(-90)" font-size="11.5" stroke="#000" stroke-width="0.3" text-anchor="middle" dy="4">A</text><text transform="translate(227.5 275.0) rotate(-90)" font-size="11.5" stroke="#000" stroke-width="0.3" text-anchor="middle" dy="4">B</text><text transform="translate(255.9 261.7) rotate(-90)" font-size="11.5" stroke="#000" stroke-width="0.3" text-anchor="middle" dy="4">C</text><text transform="translate(283.8 241.6) rotate(-90)" font-size="11.5" stroke="#000" stroke-width="0.3" text-anchor="middle" dy="4">D</text><text transform="translate(306.6 219.5) rotate(-90)" font-size="11.5" stroke="#000" stroke-width="0.3" text-anchor="middle" dy="4">1</text><text transform="translate(331.9 192.2) rotate(-90)" font-size="11.5" stroke="#000" stroke-width="0.3" text-anchor="middle" dy="4">2</text><text transform="translate(375.8 218.5) rotate(-90)" font-size="11.5" stroke="#000" stroke-width="0.3" text-anchor="middle" dy="4">3</text><text transform="translate(406.7 210.1) rotate(-90)" font-size="11.5" stroke="#000" stroke-width="0.3" text-anchor="middle" dy="4">4</text><text transform="translate(435.5 202.6) rotate(-90)" font-size="11.5" stroke="#000" stroke-width="0.3" text-anchor="middle" dy="4">5</text><text transform="translate(466.5 190.4) rotate(-90)" font-size="11.5" stroke="#000" stroke-width="0.3" text-anchor="middle" dy="4">6</text><text transform="translate(496.0 180.1) rotate(-90)" font-size="11.5" stroke="#000" stroke-width="0.3" text-anchor="middle" dy="4">7</text><text transform="translate(535.4 190.8) rotate(-90)" font-size="11.5" stroke="#000" stroke-width="0.3" text-anchor="middle" dy="4">8</text><text transform="translate(565.7 174.5) rotate(-90)" font-size="11.5" stroke="#000" stroke-width="0.3" text-anchor="middle" dy="4">9</text><text transform="translate(606.6 177.9) rotate(-90)" font-size="11.5" stroke="#000" stroke-width="0.3" text-anchor="middle" dy="4">10</text><text transform="translate(639.2 167.6) rotate(-90)" font-size="11.5" stroke="#000" stroke-width="0.3" text-anchor="middle" dy="4">11</text><text transform="translate(674.8 180.5) rotate(-90)" font-size="11.5" stroke="#000" stroke-width="0.3" text-anchor="middle" dy="4">12</text><text transform="translate(697.3 149.5) rotate(-90)" font-size="11.5" stroke="#000" stroke-width="0.3" text-anchor="middle" dy="4">13</text><text transform="translate(732.9 161.6) rotate(-90)" font-size="11.5" stroke="#000" stroke-width="0.3" text-anchor="middle" dy="4">14</text><text transform="translate(766.4 166.7) rotate(-90)" font-size="11.5" stroke="#000" stroke-width="0.3" text-anchor="middle" dy="4">15</text><text transform="translate(799.1 161.6) rotate(-90)" font-size="11.5" stroke="#000" stroke-width="0.3" text-anchor="middle" dy="4">16</text><text transform="translate(826.6 149.5) rotate(-90)" font-size="11.5" stroke="#000" stroke-width="0.3" text-anchor="middle" dy="4">17</text><text transform="translate(856.1 120.7) rotate(-90)" font-size="11.5" stroke="#000" stroke-width="0.3" text-anchor="middle" dy="4">18</text><text transform="translate(204.3 804.3) rotate(-90)" font-size="11.5" stroke="#000" stroke-width="0.3" text-anchor="middle" dy="4">A</text><text transform="translate(227.5 839.3) rotate(-90)" font-size="11.5" stroke="#000" stroke-width="0.3" text-anchor="middle" dy="4">B</text><text transform="translate(255.9 852.5) rotate(-90)" font-size="11.5" stroke="#000" stroke-width="0.3" text-anchor="middle" dy="4">C</text><text transform="translate(283.8 872.5) rotate(-90)" font-size="11.5" stroke="#000" stroke-width="0.3" text-anchor="middle" dy="4">D</text><text transform="translate(306.6 896.8) rotate(-90)" font-size="11.5" stroke="#000" stroke-width="0.3" text-anchor="middle" dy="4">1</text><text transform="translate(331.9 923.5) rotate(-90)" font-size="11.5" stroke="#000" stroke-width="0.3" text-anchor="middle" dy="4">2</text><text transform="translate(375.8 897.5) rotate(-90)" font-size="11.5" stroke="#000" stroke-width="0.3" text-anchor="middle" dy="4">3</text><text transform="translate(406.7 905.9) rotate(-90)" font-size="11.5" stroke="#000" stroke-width="0.3" text-anchor="middle" dy="4">4</text><text transform="translate(435.5 913.0) rotate(-90)" font-size="11.5" stroke="#000" stroke-width="0.3" text-anchor="middle" dy="4">5</text><text transform="translate(466.5 925.6) rotate(-90)" font-size="11.5" stroke="#000" stroke-width="0.3" text-anchor="middle" dy="4">6</text><text transform="translate(496.0 935.5) rotate(-90)" font-size="11.5" stroke="#000" stroke-width="0.3" text-anchor="middle" dy="4">7</text><text transform="translate(535.4 924.9) rotate(-90)" font-size="11.5" stroke="#000" stroke-width="0.3" text-anchor="middle" dy="4">8</text><text transform="translate(565.7 928.1) rotate(-90)" font-size="11.5" stroke="#000" stroke-width="0.3" text-anchor="middle" dy="4">9</text><text transform="translate(606.6 916.1) rotate(-90)" font-size="11.5" stroke="#000" stroke-width="0.3" text-anchor="middle" dy="4">10</text><text transform="translate(639.2 921.3) rotate(-90)" font-size="11.5" stroke="#000" stroke-width="0.3" text-anchor="middle" dy="4">11</text><text transform="translate(674.8 917.8) rotate(-90)" font-size="11.5" stroke="#000" stroke-width="0.3" text-anchor="middle" dy="4">12</text><text transform="translate(697.3 944.5) rotate(-90)" font-size="11.5" stroke="#000" stroke-width="0.3" text-anchor="middle" dy="4">13</text><text transform="translate(732.9 933.3) rotate(-90)" font-size="11.5" stroke="#000" stroke-width="0.3" text-anchor="middle" dy="4">14</text><text transform="translate(766.4 923.8) rotate(-90)" font-size="11.5" stroke="#000" stroke-width="0.3" text-anchor="middle" dy="4">15</text><text transform="translate(799.1 928.1) rotate(-90)" font-size="11.5" stroke="#000" stroke-width="0.3" text-anchor="middle" dy="4">16</text><text transform="translate(826.6 941.0) rotate(-90)" font-size="11.5" stroke="#000" stroke-width="0.3" text-anchor="middle" dy="4">17</text><text transform="translate(856.1 969.4) rotate(-90)" font-size="11.5" stroke="#000" stroke-width="0.3" text-anchor="middle" dy="4">18</text><circle cx="961.9" cy="203.4" r="7.45" fill="#ffc43e"/><circle cx="975.3" cy="215.6" r="7.45" fill="#ffc43e"/><circle cx="1014.1" cy="168.6" r="7.45" fill="#e63c49"/><circle cx="1032.4" cy="168.6" r="7.45" fill="#e63c49"/><circle cx="1050.7" cy="168.6" r="7.45" fill="#e63c49"/><circle cx="1068.9" cy="168.6" r="7.45" fill="#e63c49"/><circle cx="1087.2" cy="168.6" r="7.45" fill="#e63c49"/><circle cx="1105.5" cy="168.6" r="7.45" fill="#e63c49"/><circle cx="1032.6" cy="200.0" r="7.45" fill="#ffc43e"/><circle cx="1050.9" cy="200.0" r="7.45" fill="#ffc43e"/><circle cx="1069.1" cy="200.0" r="7.45" fill="#ffc43e"/><circle cx="1087.4" cy="200.0" r="7.45" fill="#ffc43e"/><circle cx="1105.6" cy="200.0" r="7.45" fill="#ffc43e"/><circle cx="1123.9" cy="200.0" r="7.45" fill="#ffc43e"/><circle cx="1142.1" cy="200.0" r="7.45" fill="#ffc43e"/><circle cx="1160.4" cy="200.0" r="7.45" fill="#ffc43e"/><circle cx="1205.5" cy="169.8" r="7.45" fill="#91c1e7"/><circle cx="1223.8" cy="169.8" r="7.45" fill="#91c1e7"/><circle cx="1244.4" cy="169.8" r="7.45" fill="#91c1e7"/><circle cx="1263.8" cy="170.7" r="7.45" fill="#91c1e7"/><circle cx="1280.7" cy="170.7" r="7.45" fill="#91c1e7"/><circle cx="1300.4" cy="173.5" r="7.45" fill="#91c1e7"/><circle cx="1319.7" cy="178.0" r="7.45" fill="#91c1e7"/><circle cx="1338.1" cy="184.3" r="7.45" fill="#91c1e7"/><circle cx="1355.2" cy="189.2" r="7.45" fill="#91c1e7"/><circle cx="1212.5" cy="200.0" r="7.45" fill="#e63c49"/><circle cx="1231.1" cy="199.1" r="7.45" fill="#e63c49"/><circle cx="1249.1" cy="200.0" r="7.45" fill="#e63c49"/><circle cx="1267.3" cy="200.9" r="7.45" fill="#e63c49"/><circle cx="1285.9" cy="203.3" r="7.45" fill="#e63c49"/><circle cx="1303.9" cy="207.1" r="7.45" fill="#e63c49"/><circle cx="1321.2" cy="210.6" r="7.45" fill="#e63c49"/><circle cx="1339.3" cy="216.6" r="7.45" fill="#e63c49"/><circle cx="1218.8" cy="230.0" r="7.45" fill="#ffc43e"/><circle cx="1237.1" cy="230.0" r="7.45" fill="#ffc43e"/><circle cx="1256.8" cy="230.0" r="7.45" fill="#ffc43e"/><circle cx="1274.7" cy="232.5" r="7.45" fill="#ffc43e"/><circle cx="1293.1" cy="236.0" r="7.45" fill="#ffc43e"/><circle cx="1312.6" cy="241.0" r="7.45" fill="#ffc43e"/><circle cx="1331.0" cy="245.8" r="7.45" fill="#ffc43e"/><circle cx="960.8" cy="912.2" r="7.45" fill="#ffc43e"/><circle cx="978.3" cy="902.4" r="7.45" fill="#ffc43e"/><circle cx="1029.3" cy="923.4" r="7.45" fill="#ffc43e"/><circle cx="1047.5" cy="923.4" r="7.45" fill="#ffc43e"/><circle cx="1065.8" cy="923.4" r="7.45" fill="#ffc43e"/><circle cx="1084.0" cy="923.4" r="7.45" fill="#ffc43e"/><circle cx="1102.2" cy="923.4" r="7.45" fill="#ffc43e"/><circle cx="1120.4" cy="923.4" r="7.45" fill="#ffc43e"/><circle cx="1138.7" cy="923.4" r="7.45" fill="#ffc43e"/><circle cx="1156.9" cy="923.4" r="7.45" fill="#ffc43e"/><circle cx="1032.4" cy="954.8" r="7.45" fill="#e63c49"/><circle cx="1050.7" cy="954.8" r="7.45" fill="#e63c49"/><circle cx="1069.1" cy="954.8" r="7.45" fill="#e63c49"/><circle cx="1087.4" cy="954.8" r="7.45" fill="#e63c49"/><circle cx="1105.8" cy="954.8" r="7.45" fill="#e63c49"/><circle cx="1124.1" cy="954.8" r="7.45" fill="#e63c49"/><circle cx="1224.0" cy="892.1" r="7.45" fill="#ffc43e"/><circle cx="1241.9" cy="893.1" r="7.45" fill="#ffc43e"/><circle cx="1260.4" cy="892.1" r="7.45" fill="#ffc43e"/><circle cx="1277.3" cy="889.6" r="7.45" fill="#ffc43e"/><circle cx="1294.1" cy="886.9" r="7.45" fill="#ffc43e"/><circle cx="1311.5" cy="880.9" r="7.45" fill="#ffc43e"/><circle cx="1328.5" cy="874.6" r="7.45" fill="#ffc43e"/><circle cx="1215.3" cy="922.1" r="7.45" fill="#e63c49"/><circle cx="1233.8" cy="922.1" r="7.45" fill="#e63c49"/><circle cx="1251.6" cy="922.1" r="7.45" fill="#e63c49"/><circle cx="1270.0" cy="922.1" r="7.45" fill="#e63c49"/><circle cx="1288.1" cy="919.4" r="7.45" fill="#e63c49"/><circle cx="1306.5" cy="916.9" r="7.45" fill="#e63c49"/><circle cx="1326.0" cy="911.3" r="7.45" fill="#e63c49"/><circle cx="1342.9" cy="905.3" r="7.45" fill="#e63c49"/><circle cx="1225.0" cy="954.6" r="7.45" fill="#91c1e7"/><circle cx="1243.4" cy="953.8" r="7.45" fill="#91c1e7"/><circle cx="1261.3" cy="953.8" r="7.45" fill="#91c1e7"/><circle cx="1279.8" cy="952.1" r="7.45" fill="#91c1e7"/><circle cx="1297.9" cy="948.5" r="7.45" fill="#91c1e7"/><circle cx="1315.3" cy="945.9" r="7.45" fill="#91c1e7"/><circle cx="1333.1" cy="942.5" r="7.45" fill="#91c1e7"/><circle cx="1351.6" cy="936.3" r="7.45" fill="#91c1e7"/><circle cx="1368.5" cy="931.9" r="7.45" fill="#91c1e7"/><circle cx="1363.8" cy="264.0" r="7.45" fill="#b0e21f"/><circle cx="1379.0" cy="274.2" r="7.45" fill="#b0e21f"/><circle cx="1393.7" cy="285.1" r="7.45" fill="#b0e21f"/><circle cx="1407.8" cy="296.9" r="7.45" fill="#b0e21f"/><circle cx="1421.3" cy="309.3" r="7.45" fill="#b0e21f"/><circle cx="1434.2" cy="322.5" r="7.45" fill="#b0e21f"/><circle cx="1446.4" cy="336.3" r="7.45" fill="#b0e21f"/><circle cx="1457.8" cy="350.7" r="7.45" fill="#b0e21f"/><circle cx="1468.5" cy="365.7" r="7.45" fill="#b0e21f"/><circle cx="1478.4" cy="381.3" r="7.45" fill="#b0e21f"/><circle cx="1380.9" cy="236.0" r="7.45" fill="#ffc43e"/><circle cx="1396.0" cy="246.5" r="7.45" fill="#ffc43e"/><circle cx="1410.6" cy="257.7" r="7.45" fill="#ffc43e"/><circle cx="1424.7" cy="269.6" r="7.45" fill="#ffc43e"/><circle cx="1438.1" cy="282.2" r="7.45" fill="#ffc43e"/><circle cx="1451.0" cy="295.3" r="7.45" fill="#ffc43e"/><circle cx="1463.2" cy="309.1" r="7.45" fill="#ffc43e"/><circle cx="1474.7" cy="323.5" r="7.45" fill="#ffc43e"/><circle cx="1485.5" cy="338.3" r="7.45" fill="#ffc43e"/><circle cx="1495.6" cy="353.7" r="7.45" fill="#ffc43e"/><circle cx="1505.0" cy="369.5" r="7.45" fill="#ffc43e"/><circle cx="1396.6" cy="210.4" r="7.45" fill="#ffc43e"/><circle cx="1411.8" cy="220.6" r="7.45" fill="#ffc43e"/><circle cx="1426.6" cy="231.6" r="7.45" fill="#ffc43e"/><circle cx="1440.9" cy="243.1" r="7.45" fill="#ffc43e"/><circle cx="1454.7" cy="255.3" r="7.45" fill="#ffc43e"/><circle cx="1467.9" cy="268.1" r="7.45" fill="#ffc43e"/><circle cx="1480.5" cy="281.4" r="7.45" fill="#ffc43e"/><circle cx="1492.6" cy="295.3" r="7.45" fill="#ffc43e"/><circle cx="1504.0" cy="309.8" r="7.45" fill="#ffc43e"/><circle cx="1514.8" cy="324.7" r="7.45" fill="#ffc43e"/><circle cx="1524.9" cy="340.1" r="7.45" fill="#ffc43e"/><circle cx="1534.3" cy="355.9" r="7.45" fill="#ffc43e"/><circle cx="1447.9" cy="206.9" r="7.45" fill="#e63c49"/><circle cx="1462.1" cy="218.5" r="7.45" fill="#e63c49"/><circle cx="1475.7" cy="230.7" r="7.45" fill="#e63c49"/><circle cx="1488.9" cy="243.4" r="7.45" fill="#e63c49"/><circle cx="1501.5" cy="256.7" r="7.45" fill="#e63c49"/><circle cx="1513.6" cy="270.5" r="7.45" fill="#e63c49"/><circle cx="1525.1" cy="284.7" r="7.45" fill="#e63c49"/><circle cx="1536.1" cy="299.5" r="7.45" fill="#e63c49"/><circle cx="1546.4" cy="314.6" r="7.45" fill="#e63c49"/><circle cx="1556.1" cy="330.2" r="7.45" fill="#e63c49"/><circle cx="1565.1" cy="346.1" r="7.45" fill="#e63c49"/><circle cx="1469.5" cy="180.4" r="7.45" fill="#e63c49"/><circle cx="1483.6" cy="192.2" r="7.45" fill="#e63c49"/><circle cx="1497.2" cy="204.4" r="7.45" fill="#e63c49"/><circle cx="1510.4" cy="217.2" r="7.45" fill="#e63c49"/><circle cx="1523.1" cy="230.5" r="7.45" fill="#e63c49"/><circle cx="1535.2" cy="244.3" r="7.45" fill="#e63c49"/><circle cx="1546.8" cy="258.5" r="7.45" fill="#e63c49"/><circle cx="1557.9" cy="273.1" r="7.45" fill="#e63c49"/><circle cx="1568.4" cy="288.1" r="7.45" fill="#e63c49"/><circle cx="1578.3" cy="303.5" r="7.45" fill="#e63c49"/><circle cx="1587.6" cy="319.3" r="7.45" fill="#e63c49"/><circle cx="1596.3" cy="335.4" r="7.45" fill="#e63c49"/><circle cx="1514.5" cy="180.4" r="7.45" fill="#91c1e7"/><circle cx="1527.7" cy="193.0" r="7.45" fill="#91c1e7"/><circle cx="1540.5" cy="206.0" r="7.45" fill="#91c1e7"/><circle cx="1552.8" cy="219.4" r="7.45" fill="#91c1e7"/><circle cx="1564.6" cy="233.3" r="7.45" fill="#91c1e7"/><circle cx="1575.9" cy="247.6" r="7.45" fill="#91c1e7"/><circle cx="1586.7" cy="262.3" r="7.45" fill="#91c1e7"/><circle cx="1596.9" cy="277.4" r="7.45" fill="#91c1e7"/><circle cx="1606.7" cy="292.8" r="7.45" fill="#91c1e7"/><circle cx="1615.8" cy="308.5" r="7.45" fill="#91c1e7"/><circle cx="1624.4" cy="324.6" r="7.45" fill="#91c1e7"/><circle cx="1546.4" cy="162.1" r="7.45" fill="#91c1e7"/><circle cx="1559.8" cy="175.6" r="7.45" fill="#91c1e7"/><circle cx="1572.7" cy="189.5" r="7.45" fill="#91c1e7"/><circle cx="1585.2" cy="203.8" r="7.45" fill="#91c1e7"/><circle cx="1597.1" cy="218.6" r="7.45" fill="#91c1e7"/><circle cx="1608.5" cy="233.8" r="7.45" fill="#91c1e7"/><circle cx="1619.3" cy="249.3" r="7.45" fill="#91c1e7"/><circle cx="1629.6" cy="265.2" r="7.45" fill="#91c1e7"/><circle cx="1639.4" cy="281.5" r="7.45" fill="#91c1e7"/><circle cx="1648.5" cy="298.0" r="7.45" fill="#91c1e7"/><circle cx="1657.1" cy="314.9" r="7.45" fill="#91c1e7"/><circle cx="1585.4" cy="157.5" r="7.45" fill="#00a487"/><circle cx="1597.7" cy="171.0" r="7.45" fill="#00a487"/><circle cx="1609.5" cy="184.8" r="7.45" fill="#00a487"/><circle cx="1620.9" cy="199.0" r="7.45" fill="#00a487"/><circle cx="1631.9" cy="213.6" r="7.45" fill="#00a487"/><circle cx="1642.3" cy="228.5" r="7.45" fill="#00a487"/><circle cx="1652.3" cy="243.7" r="7.45" fill="#00a487"/><circle cx="1661.8" cy="259.2" r="7.45" fill="#00a487"/><circle cx="1670.8" cy="274.9" r="7.45" fill="#00a487"/><circle cx="1679.3" cy="291.0" r="7.45" fill="#00a487"/><circle cx="1687.3" cy="307.3" r="7.45" fill="#00a487"/><circle cx="1619.4" cy="146.9" r="7.45" fill="#00a487"/><circle cx="1631.3" cy="160.8" r="7.45" fill="#00a487"/><circle cx="1642.8" cy="174.9" r="7.45" fill="#00a487"/><circle cx="1653.8" cy="189.5" r="7.45" fill="#00a487"/><circle cx="1664.4" cy="204.3" r="7.45" fill="#00a487"/><circle cx="1674.5" cy="219.4" r="7.45" fill="#00a487"/><circle cx="1684.2" cy="234.9" r="7.45" fill="#00a487"/><circle cx="1693.4" cy="250.6" r="7.45" fill="#00a487"/><circle cx="1702.1" cy="266.5" r="7.45" fill="#00a487"/><circle cx="1710.4" cy="282.8" r="7.45" fill="#00a487"/><circle cx="1718.1" cy="299.2" r="7.45" fill="#00a487"/><circle cx="1722.9" cy="238.1" r="7.45" fill="#00a487"/><circle cx="1732.0" cy="254.5" r="7.45" fill="#00a487"/><circle cx="1740.5" cy="271.2" r="7.45" fill="#00a487"/><circle cx="1748.6" cy="288.1" r="7.45" fill="#00a487"/><circle cx="1492.6" cy="412.7" r="7.45" fill="#b0e21f"/><circle cx="1499.5" cy="428.5" r="7.45" fill="#b0e21f"/><circle cx="1505.6" cy="444.5" r="7.45" fill="#b0e21f"/><circle cx="1510.9" cy="460.9" r="7.45" fill="#b0e21f"/><circle cx="1521.9" cy="396.9" r="7.45" fill="#ffc43e"/><circle cx="1528.8" cy="413.3" r="7.45" fill="#ffc43e"/><circle cx="1534.9" cy="429.9" r="7.45" fill="#ffc43e"/><circle cx="1540.3" cy="446.8" r="7.45" fill="#ffc43e"/><circle cx="1553.7" cy="398.7" r="7.45" fill="#ffc43e"/><circle cx="1559.7" cy="415.2" r="7.45" fill="#ffc43e"/><circle cx="1564.9" cy="431.9" r="7.45" fill="#ffc43e"/><circle cx="1569.5" cy="448.8" r="7.45" fill="#ffc43e"/><circle cx="1582.9" cy="388.9" r="7.45" fill="#e63c49"/><circle cx="1589.8" cy="405.4" r="7.45" fill="#e63c49"/><circle cx="1596.0" cy="422.1" r="7.45" fill="#e63c49"/><circle cx="1601.5" cy="439.1" r="7.45" fill="#e63c49"/><circle cx="1615.6" cy="379.9" r="7.45" fill="#e63c49"/><circle cx="1621.6" cy="397.4" r="7.45" fill="#e63c49"/><circle cx="1627.0" cy="415.1" r="7.45" fill="#e63c49"/><circle cx="1631.6" cy="433.0" r="7.45" fill="#e63c49"/><circle cx="1647.3" cy="370.3" r="7.45" fill="#91c1e7"/><circle cx="1653.3" cy="387.8" r="7.45" fill="#91c1e7"/><circle cx="1658.7" cy="405.4" r="7.45" fill="#91c1e7"/><circle cx="1663.4" cy="423.2" r="7.45" fill="#91c1e7"/><circle cx="1681.7" cy="365.3" r="7.45" fill="#91c1e7"/><circle cx="1687.5" cy="382.9" r="7.45" fill="#91c1e7"/><circle cx="1692.7" cy="400.7" r="7.45" fill="#91c1e7"/><circle cx="1697.3" cy="418.6" r="7.45" fill="#91c1e7"/><circle cx="1712.2" cy="367.8" r="7.45" fill="#00a487"/><circle cx="1718.0" cy="385.4" r="7.45" fill="#00a487"/><circle cx="1723.3" cy="403.2" r="7.45" fill="#00a487"/><circle cx="1728.0" cy="421.2" r="7.45" fill="#00a487"/><circle cx="1744.9" cy="364.4" r="7.45" fill="#00a487"/><circle cx="1750.7" cy="382.0" r="7.45" fill="#00a487"/><circle cx="1756.0" cy="399.8" r="7.45" fill="#00a487"/><circle cx="1760.8" cy="417.8" r="7.45" fill="#00a487"/><circle cx="1780.3" cy="375.1" r="7.45" fill="#00a487"/><circle cx="1785.9" cy="392.6" r="7.45" fill="#00a487"/><circle cx="1791.0" cy="410.2" r="7.45" fill="#00a487"/><circle cx="1510.0" cy="661.6" r="7.45" fill="#b0e21f"/><circle cx="1504.6" cy="677.7" r="7.45" fill="#b0e21f"/><circle cx="1498.4" cy="693.6" r="7.45" fill="#b0e21f"/><circle cx="1491.4" cy="709.1" r="7.45" fill="#b0e21f"/><circle cx="1540.1" cy="669.4" r="7.45" fill="#ffc43e"/><circle cx="1534.8" cy="686.2" r="7.45" fill="#ffc43e"/><circle cx="1528.7" cy="702.7" r="7.45" fill="#ffc43e"/><circle cx="1521.8" cy="718.9" r="7.45" fill="#ffc43e"/><circle cx="1571.9" cy="671.4" r="7.45" fill="#ffc43e"/><circle cx="1567.2" cy="689.8" r="7.45" fill="#ffc43e"/><circle cx="1561.6" cy="708.0" r="7.45" fill="#ffc43e"/><circle cx="1555.2" cy="726.0" r="7.45" fill="#ffc43e"/><circle cx="1602.3" cy="683.6" r="7.45" fill="#e63c49"/><circle cx="1597.0" cy="700.8" r="7.45" fill="#e63c49"/><circle cx="1591.0" cy="717.8" r="7.45" fill="#e63c49"/><circle cx="1584.3" cy="734.6" r="7.45" fill="#e63c49"/><circle cx="1634.1" cy="692.0" r="7.45" fill="#e63c49"/><circle cx="1628.6" cy="709.1" r="7.45" fill="#e63c49"/><circle cx="1622.5" cy="726.0" r="7.45" fill="#e63c49"/><circle cx="1615.7" cy="742.7" r="7.45" fill="#e63c49"/><circle cx="1663.2" cy="699.3" r="7.45" fill="#91c1e7"/><circle cx="1658.6" cy="716.5" r="7.45" fill="#91c1e7"/><circle cx="1653.3" cy="733.5" r="7.45" fill="#91c1e7"/><circle cx="1647.5" cy="750.3" r="7.45" fill="#91c1e7"/><circle cx="1696.2" cy="698.3" r="7.45" fill="#91c1e7"/><circle cx="1691.3" cy="715.8" r="7.45" fill="#91c1e7"/><circle cx="1685.9" cy="733.1" r="7.45" fill="#91c1e7"/><circle cx="1679.9" cy="750.3" r="7.45" fill="#91c1e7"/><circle cx="1730.5" cy="696.9" r="7.45" fill="#00a487"/><circle cx="1725.7" cy="714.3" r="7.45" fill="#00a487"/><circle cx="1720.4" cy="731.5" r="7.45" fill="#00a487"/><circle cx="1714.6" cy="748.6" r="7.45" fill="#00a487"/><circle cx="1760.7" cy="699.3" r="7.45" fill="#00a487"/><circle cx="1756.7" cy="717.1" r="7.45" fill="#00a487"/><circle cx="1752.2" cy="734.8" r="7.45" fill="#00a487"/><circle cx="1747.2" cy="752.3" r="7.45" fill="#00a487"/><circle cx="1794.7" cy="694.4" r="7.45" fill="#00a487"/><circle cx="1790.1" cy="712.1" r="7.45" fill="#00a487"/><circle cx="1784.9" cy="729.7" r="7.45" fill="#00a487"/><circle cx="1477.3" cy="740.5" r="7.45" fill="#b0e21f"/><circle cx="1467.4" cy="756.1" r="7.45" fill="#b0e21f"/><circle cx="1456.7" cy="771.1" r="7.45" fill="#b0e21f"/><circle cx="1445.2" cy="785.5" r="7.45" fill="#b0e21f"/><circle cx="1433.1" cy="799.3" r="7.45" fill="#b0e21f"/><circle cx="1420.2" cy="812.5" r="7.45" fill="#b0e21f"/><circle cx="1406.7" cy="825.0" r="7.45" fill="#b0e21f"/><circle cx="1392.5" cy="836.8" r="7.45" fill="#b0e21f"/><circle cx="1377.8" cy="847.8" r="7.45" fill="#b0e21f"/><circle cx="1362.5" cy="858.0" r="7.45" fill="#b0e21f"/><circle cx="1508.1" cy="751.5" r="7.45" fill="#ffc43e"/><circle cx="1498.6" cy="767.3" r="7.45" fill="#ffc43e"/><circle cx="1488.4" cy="782.6" r="7.45" fill="#ffc43e"/><circle cx="1477.5" cy="797.4" r="7.45" fill="#ffc43e"/><circle cx="1465.9" cy="811.7" r="7.45" fill="#ffc43e"/><circle cx="1453.6" cy="825.4" r="7.45" fill="#ffc43e"/><circle cx="1440.7" cy="838.5" r="7.45" fill="#ffc43e"/><circle cx="1427.2" cy="851.0" r="7.45" fill="#ffc43e"/><circle cx="1413.1" cy="862.9" r="7.45" fill="#ffc43e"/><circle cx="1398.4" cy="874.0" r="7.45" fill="#ffc43e"/><circle cx="1383.3" cy="884.5" r="7.45" fill="#ffc43e"/><circle cx="1536.6" cy="763.7" r="7.45" fill="#ffc43e"/><circle cx="1527.4" cy="779.6" r="7.45" fill="#ffc43e"/><circle cx="1517.6" cy="795.1" r="7.45" fill="#ffc43e"/><circle cx="1507.0" cy="810.1" r="7.45" fill="#ffc43e"/><circle cx="1495.9" cy="824.7" r="7.45" fill="#ffc43e"/><circle cx="1484.1" cy="838.8" r="7.45" fill="#ffc43e"/><circle cx="1471.6" cy="852.3" r="7.45" fill="#ffc43e"/><circle cx="1458.6" cy="865.3" r="7.45" fill="#ffc43e"/><circle cx="1445.1" cy="877.7" r="7.45" fill="#ffc43e"/><circle cx="1431.0" cy="889.5" r="7.45" fill="#ffc43e"/><circle cx="1416.4" cy="900.7" r="7.45" fill="#ffc43e"/><circle cx="1401.3" cy="911.3" r="7.45" fill="#ffc43e"/><circle cx="1567.0" cy="776.8" r="7.45" fill="#e63c49"/><circle cx="1558.0" cy="792.8" r="7.45" fill="#e63c49"/><circle cx="1548.4" cy="808.4" r="7.45" fill="#e63c49"/><circle cx="1538.1" cy="823.7" r="7.45" fill="#e63c49"/><circle cx="1527.2" cy="838.5" r="7.45" fill="#e63c49"/><circle cx="1515.8" cy="852.8" r="7.45" fill="#e63c49"/><circle cx="1503.7" cy="866.7" r="7.45" fill="#e63c49"/><circle cx="1491.1" cy="880.1" r="7.45" fill="#e63c49"/><circle cx="1477.9" cy="893.0" r="7.45" fill="#e63c49"/><circle cx="1464.3" cy="905.3" r="7.45" fill="#e63c49"/><circle cx="1450.1" cy="917.1" r="7.45" fill="#e63c49"/><circle cx="1435.5" cy="928.3" r="7.45" fill="#e63c49"/><circle cx="1596.0" cy="786.3" r="7.45" fill="#e63c49"/><circle cx="1587.3" cy="802.4" r="7.45" fill="#e63c49"/><circle cx="1578.0" cy="818.1" r="7.45" fill="#e63c49"/><circle cx="1568.1" cy="833.5" r="7.45" fill="#e63c49"/><circle cx="1557.7" cy="848.5" r="7.45" fill="#e63c49"/><circle cx="1546.7" cy="863.1" r="7.45" fill="#e63c49"/><circle cx="1535.1" cy="877.3" r="7.45" fill="#e63c49"/><circle cx="1523.0" cy="891.1" r="7.45" fill="#e63c49"/><circle cx="1510.3" cy="904.4" r="7.45" fill="#e63c49"/><circle cx="1497.2" cy="917.2" r="7.45" fill="#e63c49"/><circle cx="1483.6" cy="929.5" r="7.45" fill="#e63c49"/><circle cx="1469.5" cy="941.3" r="7.45" fill="#e63c49"/><circle cx="1626.9" cy="793.5" r="7.45" fill="#91c1e7"/><circle cx="1618.3" cy="809.7" r="7.45" fill="#91c1e7"/><circle cx="1609.0" cy="825.6" r="7.45" fill="#91c1e7"/><circle cx="1599.3" cy="841.1" r="7.45" fill="#91c1e7"/><circle cx="1588.9" cy="856.3" r="7.45" fill="#91c1e7"/><circle cx="1578.1" cy="871.1" r="7.45" fill="#91c1e7"/><circle cx="1566.7" cy="885.5" r="7.45" fill="#91c1e7"/><circle cx="1554.8" cy="899.5" r="7.45" fill="#91c1e7"/><circle cx="1542.4" cy="913.1" r="7.45" fill="#91c1e7"/><circle cx="1529.5" cy="926.2" r="7.45" fill="#91c1e7"/><circle cx="1516.2" cy="938.8" r="7.45" fill="#91c1e7"/><circle cx="1657.3" cy="803.3" r="7.45" fill="#91c1e7"/><circle cx="1649.2" cy="819.6" r="7.45" fill="#91c1e7"/><circle cx="1640.5" cy="835.7" r="7.45" fill="#91c1e7"/><circle cx="1631.2" cy="851.4" r="7.45" fill="#91c1e7"/><circle cx="1621.5" cy="866.9" r="7.45" fill="#91c1e7"/><circle cx="1611.2" cy="882.0" r="7.45" fill="#91c1e7"/><circle cx="1600.4" cy="896.8" r="7.45" fill="#91c1e7"/><circle cx="1589.2" cy="911.2" r="7.45" fill="#91c1e7"/><circle cx="1577.4" cy="925.3" r="7.45" fill="#91c1e7"/><circle cx="1565.2" cy="938.9" r="7.45" fill="#91c1e7"/><circle cx="1552.5" cy="952.2" r="7.45" fill="#91c1e7"/><circle cx="1688.8" cy="816.3" r="7.45" fill="#00a487"/><circle cx="1680.4" cy="832.6" r="7.45" fill="#00a487"/><circle cx="1671.5" cy="848.7" r="7.45" fill="#00a487"/><circle cx="1662.0" cy="864.4" r="7.45" fill="#00a487"/><circle cx="1652.1" cy="879.9" r="7.45" fill="#00a487"/><circle cx="1641.7" cy="895.0" r="7.45" fill="#00a487"/><circle cx="1630.8" cy="909.8" r="7.45" fill="#00a487"/><circle cx="1619.5" cy="924.2" r="7.45" fill="#00a487"/><circle cx="1607.7" cy="938.3" r="7.45" fill="#00a487"/><circle cx="1595.5" cy="952.0" r="7.45" fill="#00a487"/><circle cx="1582.8" cy="965.3" r="7.45" fill="#00a487"/><circle cx="1719.0" cy="821.4" r="7.45" fill="#00a487"/><circle cx="1711.3" cy="837.8" r="7.45" fill="#00a487"/><circle cx="1703.1" cy="854.0" r="7.45" fill="#00a487"/><circle cx="1694.5" cy="870.0" r="7.45" fill="#00a487"/><circle cx="1685.3" cy="885.7" r="7.45" fill="#00a487"/><circle cx="1675.7" cy="901.1" r="7.45" fill="#00a487"/><circle cx="1665.6" cy="916.3" r="7.45" fill="#00a487"/><circle cx="1655.1" cy="931.1" r="7.45" fill="#00a487"/><circle cx="1644.1" cy="945.7" r="7.45" fill="#00a487"/><circle cx="1632.7" cy="959.9" r="7.45" fill="#00a487"/><circle cx="1620.9" cy="973.8" r="7.45" fill="#00a487"/><text transform="translate(949.0 187.0) rotate(-90)" font-size="11.5" stroke="#000" stroke-width="0.3" text-anchor="middle" dy="4">1</text><text transform="translate(994.7 168.0) rotate(-90)" font-size="11.5" stroke="#000" stroke-width="0.3" text-anchor="middle" dy="4">2</text><text transform="translate(1011.9 200.0) rotate(-90)" font-size="11.5" stroke="#000" stroke-width="0.3" text-anchor="middle" dy="4">1</text><text transform="translate(1178.6 168.6) rotate(-90)" font-size="11.5" stroke="#000" stroke-width="0.3" text-anchor="middle" dy="4">3</text><text transform="translate(1184.9 198.7) rotate(-90)" font-size="11.5" stroke="#000" stroke-width="0.3" text-anchor="middle" dy="4">2</text><text transform="translate(1198.4 230.0) rotate(-90)" font-size="11.5" stroke="#000" stroke-width="0.3" text-anchor="middle" dy="4">1</text><text transform="translate(1375.3 197.7) rotate(-90)" font-size="11.5" stroke="#000" stroke-width="0.3" text-anchor="middle" dy="4">3</text><text transform="translate(1360.2 221.6) rotate(-90)" font-size="11.5" stroke="#000" stroke-width="0.3" text-anchor="middle" dy="4">2</text><text transform="translate(1345.8 252.5) rotate(-90)" font-size="11.5" stroke="#000" stroke-width="0.3" text-anchor="middle" dy="4">1</text><text transform="translate(1428.1 193.2) rotate(-90)" font-size="11.5" stroke="#000" stroke-width="0.3" text-anchor="middle" dy="4">4</text><text transform="translate(1450.4 166.0) rotate(-90)" font-size="11.5" stroke="#000" stroke-width="0.3" text-anchor="middle" dy="4">5</text><text transform="translate(1498.4 164.3) rotate(-90)" font-size="11.5" stroke="#000" stroke-width="0.3" text-anchor="middle" dy="4">6</text><text transform="translate(1531.9 145.8) rotate(-90)" font-size="11.5" stroke="#000" stroke-width="0.3" text-anchor="middle" dy="4">7</text><text transform="translate(1571.3 139.4) rotate(-90)" font-size="11.5" stroke="#000" stroke-width="0.3" text-anchor="middle" dy="4">8</text><text transform="translate(1604.4 131.3) rotate(-90)" font-size="11.5" stroke="#000" stroke-width="0.3" text-anchor="middle" dy="4">9</text><text transform="translate(1710.0 213.1) rotate(-90)" font-size="11.5" stroke="#000" stroke-width="0.3" text-anchor="middle" dy="4">10</text><text transform="translate(1485.9 397.6) rotate(-90)" font-size="11.5" stroke="#000" stroke-width="0.3" text-anchor="middle" dy="4">1</text><text transform="translate(1515.9 381.8) rotate(-90)" font-size="11.5" stroke="#000" stroke-width="0.3" text-anchor="middle" dy="4">2</text><text transform="translate(1543.0 376.2) rotate(-90)" font-size="11.5" stroke="#000" stroke-width="0.3" text-anchor="middle" dy="4">3</text><text transform="translate(1574.2 364.8) rotate(-90)" font-size="11.5" stroke="#000" stroke-width="0.3" text-anchor="middle" dy="4">4</text><text transform="translate(1605.2 353.4) rotate(-90)" font-size="11.5" stroke="#000" stroke-width="0.3" text-anchor="middle" dy="4">5</text><text transform="translate(1638.5 346.7) rotate(-90)" font-size="11.5" stroke="#000" stroke-width="0.3" text-anchor="middle" dy="4">6</text><text transform="translate(1670.8 339.9) rotate(-90)" font-size="11.5" stroke="#000" stroke-width="0.3" text-anchor="middle" dy="4">7</text><text transform="translate(1701.2 333.9) rotate(-90)" font-size="11.5" stroke="#000" stroke-width="0.3" text-anchor="middle" dy="4">8</text><text transform="translate(1733.4 328.8) rotate(-90)" font-size="11.5" stroke="#000" stroke-width="0.3" text-anchor="middle" dy="4">9</text><text transform="translate(1763.0 324.6) rotate(-90)" font-size="11.5" stroke="#000" stroke-width="0.3" text-anchor="middle" dy="4">10</text><text transform="translate(946.5 927.3) rotate(-90)" font-size="11.5" stroke="#000" stroke-width="0.3" text-anchor="middle" dy="4">1</text><text transform="translate(1002.0 920.8) rotate(-90)" font-size="11.5" stroke="#000" stroke-width="0.3" text-anchor="middle" dy="4">1</text><text transform="translate(1006.3 953.4) rotate(-90)" font-size="11.5" stroke="#000" stroke-width="0.3" text-anchor="middle" dy="4">2</text><text transform="translate(1191.9 891.9) rotate(-90)" font-size="11.5" stroke="#000" stroke-width="0.3" text-anchor="middle" dy="4">1</text><text transform="translate(1183.8 921.9) rotate(-90)" font-size="11.5" stroke="#000" stroke-width="0.3" text-anchor="middle" dy="4">2</text><text transform="translate(1197.5 955.0) rotate(-90)" font-size="11.5" stroke="#000" stroke-width="0.3" text-anchor="middle" dy="4">3</text><text transform="translate(1348.8 868.1) rotate(-90)" font-size="11.5" stroke="#000" stroke-width="0.3" text-anchor="middle" dy="4">1</text><text transform="translate(1364.4 895.0) rotate(-90)" font-size="11.5" stroke="#000" stroke-width="0.3" text-anchor="middle" dy="4">2</text><text transform="translate(1388.5 922.8) rotate(-90)" font-size="11.5" stroke="#000" stroke-width="0.3" text-anchor="middle" dy="4">3</text><text transform="translate(1421.2 942.5) rotate(-90)" font-size="11.5" stroke="#000" stroke-width="0.3" text-anchor="middle" dy="4">4</text><text transform="translate(1455.8 956.7) rotate(-90)" font-size="11.5" stroke="#000" stroke-width="0.3" text-anchor="middle" dy="4">5</text><text transform="translate(1503.3 955.8) rotate(-90)" font-size="11.5" stroke="#000" stroke-width="0.3" text-anchor="middle" dy="4">6</text><text transform="translate(1538.3 966.7) rotate(-90)" font-size="11.5" stroke="#000" stroke-width="0.3" text-anchor="middle" dy="4">7</text><text transform="translate(1570.0 977.5) rotate(-90)" font-size="11.5" stroke="#000" stroke-width="0.3" text-anchor="middle" dy="4">8</text><text transform="translate(1605.8 988.3) rotate(-90)" font-size="11.5" stroke="#000" stroke-width="0.3" text-anchor="middle" dy="4">9</text><text transform="translate(1485.5 724.8) rotate(-90)" font-size="11.5" stroke="#000" stroke-width="0.3" text-anchor="middle" dy="4">1</text><text transform="translate(1516.9 734.6) rotate(-90)" font-size="11.5" stroke="#000" stroke-width="0.3" text-anchor="middle" dy="4">2</text><text transform="translate(1547.0 745.6) rotate(-90)" font-size="11.5" stroke="#000" stroke-width="0.3" text-anchor="middle" dy="4">3</text><text transform="translate(1575.8 755.8) rotate(-90)" font-size="11.5" stroke="#000" stroke-width="0.3" text-anchor="middle" dy="4">4</text><text transform="translate(1605.3 764.7) rotate(-90)" font-size="11.5" stroke="#000" stroke-width="0.3" text-anchor="middle" dy="4">5</text><text transform="translate(1637.7 771.9) rotate(-90)" font-size="11.5" stroke="#000" stroke-width="0.3" text-anchor="middle" dy="4">6</text><text transform="translate(1667.1 775.5) rotate(-90)" font-size="11.5" stroke="#000" stroke-width="0.3" text-anchor="middle" dy="4">7</text><text transform="translate(1700.5 784.9) rotate(-90)" font-size="11.5" stroke="#000" stroke-width="0.3" text-anchor="middle" dy="4">8</text><text transform="translate(1730.9 791.6) rotate(-90)" font-size="11.5" stroke="#000" stroke-width="0.3" text-anchor="middle" dy="4">9</text><text transform="translate(1777.0 756.2) rotate(-90)" font-size="11.5" stroke="#000" stroke-width="0.3" text-anchor="middle" dy="4">10</text><g transform="translate(200.0 277.9)"><rect x="-15.3" y="-14.85" width="30.6" height="29.7" fill="#fff" stroke="#000" stroke-width="2"/><text transform="rotate(-90)" font-size="12" stroke="#000" stroke-width="0.25" text-anchor="middle"><tspan x="0" y="-0.6">TÜR</tspan><tspan x="0" y="11.2">8</tspan></text></g><g transform="translate(385.3 174.0)"><rect x="-15.3" y="-14.85" width="30.6" height="29.7" fill="#fff" stroke="#000" stroke-width="2"/><text transform="rotate(-90)" font-size="12" stroke="#000" stroke-width="0.25" text-anchor="middle"><tspan x="0" y="-0.6">TÜR</tspan><tspan x="0" y="11.2">7</tspan></text></g><g transform="translate(544.8 148.5)"><rect x="-15.3" y="-14.85" width="30.6" height="29.7" fill="#fff" stroke="#000" stroke-width="2"/><text transform="rotate(-90)" font-size="12" stroke="#000" stroke-width="0.25" text-anchor="middle"><tspan x="0" y="-0.6">TÜR</tspan><tspan x="0" y="11.2">6</tspan></text></g><g transform="translate(767.8 115.0)"><rect x="-15.3" y="-14.85" width="30.6" height="29.7" fill="#fff" stroke="#000" stroke-width="2"/><text transform="rotate(-90)" font-size="12" stroke="#000" stroke-width="0.25" text-anchor="middle"><tspan x="0" y="-0.6">TÜR</tspan><tspan x="0" y="11.2">5</tspan></text></g><g transform="translate(200.0 837.6)"><rect x="-15.3" y="-14.85" width="30.6" height="29.7" fill="#fff" stroke="#000" stroke-width="2"/><text transform="rotate(-90)" font-size="12" stroke="#000" stroke-width="0.25" text-anchor="middle"><tspan x="0" y="-0.6">TÜR</tspan><tspan x="0" y="11.2">1</tspan></text></g><g transform="translate(385.3 942.0)"><rect x="-15.3" y="-14.85" width="30.6" height="29.7" fill="#fff" stroke="#000" stroke-width="2"/><text transform="rotate(-90)" font-size="12" stroke="#000" stroke-width="0.25" text-anchor="middle"><tspan x="0" y="-0.6">TÜR</tspan><tspan x="0" y="11.2">2</tspan></text></g><g transform="translate(544.8 967.6)"><rect x="-15.3" y="-14.85" width="30.6" height="29.7" fill="#fff" stroke="#000" stroke-width="2"/><text transform="rotate(-90)" font-size="12" stroke="#000" stroke-width="0.25" text-anchor="middle"><tspan x="0" y="-0.6">TÜR</tspan><tspan x="0" y="11.2">3</tspan></text></g><g transform="translate(767.8 1001.5)"><rect x="-15.3" y="-14.85" width="30.6" height="29.7" fill="#fff" stroke="#000" stroke-width="2"/><text transform="rotate(-90)" font-size="12" stroke="#000" stroke-width="0.25" text-anchor="middle"><tspan x="0" y="-0.6">TÜR</tspan><tspan x="0" y="11.2">4</tspan></text></g><g transform="translate(981.5 140.2)"><rect x="-15.3" y="-14.85" width="30.6" height="29.7" fill="#fff" stroke="#000" stroke-width="2"/><text transform="rotate(-90)" font-size="12" stroke="#000" stroke-width="0.25" text-anchor="middle"><tspan x="0" y="-0.6">TÜR</tspan><tspan x="0" y="11.2">9</tspan></text></g><g transform="translate(1184.2 128.2)"><rect x="-15.3" y="-14.85" width="30.6" height="29.7" fill="#fff" stroke="#000" stroke-width="2"/><text transform="rotate(-90)" font-size="12" stroke="#000" stroke-width="0.25" text-anchor="middle"><tspan x="0" y="-0.6">TÜR</tspan><tspan x="0" y="11.2">8</tspan></text></g><g transform="translate(1414.0 115.0)"><rect x="-15.3" y="-14.85" width="30.6" height="29.7" fill="#fff" stroke="#000" stroke-width="2"/><text transform="rotate(-90)" font-size="12" stroke="#000" stroke-width="0.25" text-anchor="middle"><tspan x="0" y="-0.6">TÜR</tspan><tspan x="0" y="11.2">7</tspan></text></g><g transform="translate(1811.8 301.4)"><rect x="-15.3" y="-14.85" width="30.6" height="29.7" fill="#fff" stroke="#000" stroke-width="2"/><text transform="rotate(-90)" font-size="12" stroke="#000" stroke-width="0.25" text-anchor="middle"><tspan x="0" y="-0.6">TÜR</tspan><tspan x="0" y="11.2">6</tspan></text></g><g transform="translate(1737.3 559.3)"><rect x="-15.3" y="-14.85" width="30.6" height="29.7" fill="#fff" stroke="#000" stroke-width="2"/><text transform="rotate(-90)" font-size="12" stroke="#000" stroke-width="0.25" text-anchor="middle"><tspan x="0" y="-0.6">TÜR</tspan><tspan x="0" y="11.2">5</tspan></text></g><g transform="translate(1811.5 816.6)"><rect x="-15.3" y="-14.85" width="30.6" height="29.7" fill="#fff" stroke="#000" stroke-width="2"/><text transform="rotate(-90)" font-size="12" stroke="#000" stroke-width="0.25" text-anchor="middle"><tspan x="0" y="-0.6">TÜR</tspan><tspan x="0" y="11.2">4</tspan></text></g><g transform="translate(1413.9 1003.3)"><rect x="-15.3" y="-14.85" width="30.6" height="29.7" fill="#fff" stroke="#000" stroke-width="2"/><text transform="rotate(-90)" font-size="12" stroke="#000" stroke-width="0.25" text-anchor="middle"><tspan x="0" y="-0.6">TÜR</tspan><tspan x="0" y="11.2">3</tspan></text></g><g transform="translate(1184.1 989.8)"><rect x="-15.3" y="-14.85" width="30.6" height="29.7" fill="#fff" stroke="#000" stroke-width="2"/><text transform="rotate(-90)" font-size="12" stroke="#000" stroke-width="0.25" text-anchor="middle"><tspan x="0" y="-0.6">TÜR</tspan><tspan x="0" y="11.2">2</tspan></text></g><g transform="translate(981.5 977.6)"><rect x="-15.3" y="-14.85" width="30.6" height="29.7" fill="#fff" stroke="#000" stroke-width="2"/><text transform="rotate(-90)" font-size="12" stroke="#000" stroke-width="0.25" text-anchor="middle"><tspan x="0" y="-0.6">TÜR</tspan><tspan x="0" y="11.2">1</tspan></text></g>
</svg>
</body></html>
